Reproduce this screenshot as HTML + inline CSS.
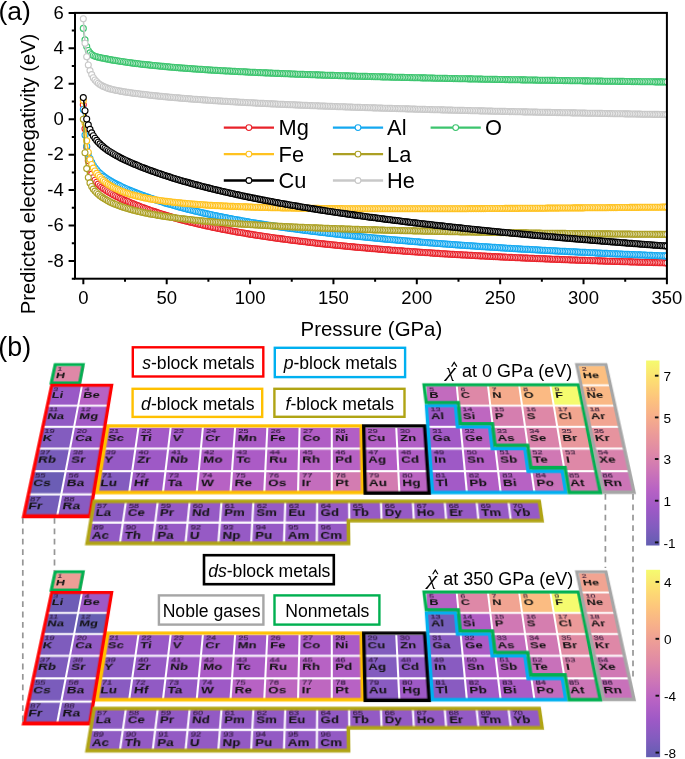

<!DOCTYPE html><html><head><meta charset="utf-8"><style>
html,body{margin:0;padding:0;background:#fff}svg{will-change:transform}body{width:685px;height:759px;overflow:hidden;position:relative;font-family:"Liberation Sans",sans-serif}
.a{position:absolute}.box{position:absolute;box-sizing:border-box;background:#fff;font-size:17.6px;color:#111;text-align:center;white-space:nowrap}
.pt{position:absolute;left:0;top:0;transform-origin:0 0}
</style></head><body>
<svg class="a" style="left:0;top:0" width="685" height="345" viewBox="0 0 685 345">
<defs><clipPath id="cp"><rect x="75.0" y="12.9" width="591.9" height="265.8"/></clipPath>
<marker id="mMg" markerUnits="userSpaceOnUse" markerWidth="8" markerHeight="8" refX="4" refY="4" overflow="visible"><circle cx="4" cy="4" r="3.0" fill="#fff" stroke="#e8222a" stroke-width="1.1"/></marker>
<marker id="mAl" markerUnits="userSpaceOnUse" markerWidth="8" markerHeight="8" refX="4" refY="4" overflow="visible"><circle cx="4" cy="4" r="3.0" fill="#fff" stroke="#14a8f0" stroke-width="1.1"/></marker>
<marker id="mO" markerUnits="userSpaceOnUse" markerWidth="8" markerHeight="8" refX="4" refY="4" overflow="visible"><circle cx="4" cy="4" r="3.0" fill="#fff" stroke="#3cc46e" stroke-width="1.1"/></marker>
<marker id="mFe" markerUnits="userSpaceOnUse" markerWidth="8" markerHeight="8" refX="4" refY="4" overflow="visible"><circle cx="4" cy="4" r="3.0" fill="#fff" stroke="#ffc220" stroke-width="1.1"/></marker>
<marker id="mLa" markerUnits="userSpaceOnUse" markerWidth="8" markerHeight="8" refX="4" refY="4" overflow="visible"><circle cx="4" cy="4" r="3.0" fill="#fff" stroke="#aca024" stroke-width="1.1"/></marker>
<marker id="mCu" markerUnits="userSpaceOnUse" markerWidth="8" markerHeight="8" refX="4" refY="4" overflow="visible"><circle cx="4" cy="4" r="3.0" fill="#fff" stroke="#000000" stroke-width="1.1"/></marker>
<marker id="mHe" markerUnits="userSpaceOnUse" markerWidth="8" markerHeight="8" refX="4" refY="4" overflow="visible"><circle cx="4" cy="4" r="3.0" fill="#fff" stroke="#c8c8c8" stroke-width="1.1"/></marker>
</defs>
<g clip-path="url(#cp)">
<polyline fill="none" stroke="#e8222a" stroke-width="1.6" points="83.3,104.7 85.0,128.8 86.7,147.0 88.3,160.7 90.0,169.2 91.7,174.3 93.3,177.8 95.0,180.3 96.7,182.3 98.3,184.1 100.0,185.7 101.7,187.1 103.3,188.4 105.0,189.6 106.7,190.7 108.3,191.8 110.0,192.8 111.7,193.8 113.3,194.7 115.0,195.6 116.7,196.5 118.4,197.3 120.0,198.1 121.7,198.9 123.4,199.7 125.0,200.4 126.7,201.1 128.4,201.8 130.0,202.5 131.7,203.2 133.4,203.9 135.0,204.6 136.7,205.2 138.4,205.9 140.0,206.5 141.7,207.2 143.4,207.8 145.0,208.4 146.7,209.0 148.4,209.6 150.0,210.2 151.7,210.7 153.4,211.3 155.0,211.9 156.7,212.4 158.4,213.0 160.0,213.5 161.7,214.0 163.4,214.6 165.0,215.1 166.7,215.6 168.4,216.1 170.0,216.6 171.7,217.1 173.4,217.6 175.0,218.0 176.7,218.5 178.4,219.0 180.0,219.4 181.7,219.9 183.4,220.3 185.0,220.7 186.7,221.2 188.4,221.6 190.0,222.0 191.7,222.4 193.4,222.8 195.0,223.2 196.7,223.6 198.4,224.0 200.0,224.4 201.7,224.8 203.4,225.2 205.1,225.6 206.7,225.9 208.4,226.3 210.1,226.6 211.7,227.0 213.4,227.4 215.1,227.7 216.7,228.0 218.4,228.4 220.1,228.7 221.7,229.1 223.4,229.4 225.1,229.7 226.7,230.0 228.4,230.3 230.1,230.7 231.7,231.0 233.4,231.3 235.1,231.6 236.7,231.9 238.4,232.2 240.1,232.5 241.7,232.7 243.4,233.0 245.1,233.3 246.7,233.6 248.4,233.9 250.1,234.2 251.7,234.4 253.4,234.7 255.1,235.0 256.7,235.2 258.4,235.5 260.1,235.7 261.7,236.0 263.4,236.2 265.1,236.5 266.7,236.7 268.4,237.0 270.1,237.2 271.7,237.5 273.4,237.7 275.1,238.0 276.7,238.2 278.4,238.4 280.1,238.6 281.7,238.9 283.4,239.1 285.1,239.3 286.8,239.5 288.4,239.8 290.1,240.0 291.8,240.2 293.4,240.4 295.1,240.6 296.8,240.8 298.4,241.0 300.1,241.2 301.8,241.4 303.4,241.6 305.1,241.8 306.8,242.0 308.4,242.2 310.1,242.4 311.8,242.6 313.4,242.8 315.1,243.0 316.8,243.2 318.4,243.4 320.1,243.6 321.8,243.7 323.4,243.9 325.1,244.1 326.8,244.3 328.4,244.4 330.1,244.6 331.8,244.8 333.4,245.0 335.1,245.1 336.8,245.3 338.4,245.5 340.1,245.6 341.8,245.8 343.4,246.0 345.1,246.1 346.8,246.3 348.4,246.5 350.1,246.6 351.8,246.8 353.4,246.9 355.1,247.1 356.8,247.2 358.4,247.4 360.1,247.5 361.8,247.7 363.4,247.8 365.1,248.0 366.8,248.1 368.4,248.3 370.1,248.4 371.8,248.6 373.5,248.7 375.1,248.8 376.8,249.0 378.5,249.1 380.1,249.2 381.8,249.4 383.5,249.5 385.1,249.7 386.8,249.8 388.5,249.9 390.1,250.0 391.8,250.2 393.5,250.3 395.1,250.4 396.8,250.6 398.5,250.7 400.1,250.8 401.8,250.9 403.5,251.1 405.1,251.2 406.8,251.3 408.5,251.4 410.1,251.5 411.8,251.7 413.5,251.8 415.1,251.9 416.8,252.0 418.5,252.1 420.1,252.2 421.8,252.4 423.5,252.5 425.1,252.6 426.8,252.7 428.5,252.8 430.1,252.9 431.8,253.0 433.5,253.1 435.1,253.2 436.8,253.3 438.5,253.4 440.1,253.6 441.8,253.7 443.5,253.8 445.1,253.9 446.8,254.0 448.5,254.1 450.1,254.2 451.8,254.3 453.5,254.4 455.1,254.5 456.8,254.6 458.5,254.7 460.2,254.8 461.8,254.9 463.5,255.0 465.2,255.0 466.8,255.1 468.5,255.2 470.2,255.3 471.8,255.4 473.5,255.5 475.2,255.6 476.8,255.7 478.5,255.8 480.2,255.9 481.8,256.0 483.5,256.0 485.2,256.1 486.8,256.2 488.5,256.3 490.2,256.4 491.8,256.5 493.5,256.6 495.2,256.6 496.8,256.7 498.5,256.8 500.2,256.9 501.8,257.0 503.5,257.1 505.2,257.1 506.8,257.2 508.5,257.3 510.2,257.4 511.8,257.4 513.5,257.5 515.2,257.6 516.8,257.7 518.5,257.8 520.2,257.8 521.8,257.9 523.5,258.0 525.2,258.1 526.8,258.1 528.5,258.2 530.2,258.3 531.8,258.3 533.5,258.4 535.2,258.5 536.8,258.6 538.5,258.6 540.2,258.7 541.9,258.8 543.5,258.8 545.2,258.9 546.9,259.0 548.5,259.0 550.2,259.1 551.9,259.2 553.5,259.2 555.2,259.3 556.9,259.4 558.5,259.4 560.2,259.5 561.9,259.6 563.5,259.6 565.2,259.7 566.9,259.8 568.5,259.8 570.2,259.9 571.9,260.0 573.5,260.0 575.2,260.1 576.9,260.1 578.5,260.2 580.2,260.3 581.9,260.3 583.5,260.4 585.2,260.4 586.9,260.5 588.5,260.5 590.2,260.6 591.9,260.7 593.5,260.7 595.2,260.8 596.9,260.8 598.5,260.9 600.2,260.9 601.9,261.0 603.5,261.1 605.2,261.1 606.9,261.2 608.5,261.2 610.2,261.3 611.9,261.3 613.5,261.4 615.2,261.4 616.9,261.5 618.5,261.5 620.2,261.6 621.9,261.6 623.5,261.7 625.2,261.7 626.9,261.8 628.6,261.8 630.2,261.9 631.9,261.9 633.6,262.0 635.2,262.0 636.9,262.1 638.6,262.1 640.2,262.2 641.9,262.2 643.6,262.3 645.2,262.3 646.9,262.4 648.6,262.4 650.2,262.5 651.9,262.5 653.6,262.6 655.2,262.6 656.9,262.6 658.6,262.7 660.2,262.7 661.9,262.8 663.6,262.8 665.2,262.9 666.9,262.9" marker-start="url(#mMg)" marker-mid="url(#mMg)" marker-end="url(#mMg)"/>
<polyline fill="none" stroke="#14a8f0" stroke-width="1.6" points="83.3,109.5 85.0,135.0 86.7,146.2 88.3,153.5 90.0,158.6 91.7,162.4 93.3,165.3 95.0,167.8 96.7,169.8 98.3,171.7 100.0,173.3 101.7,174.7 103.3,176.1 105.0,177.3 106.7,178.5 108.3,179.6 110.0,180.6 111.7,181.6 113.3,182.5 115.0,183.4 116.7,184.3 118.4,185.1 120.0,185.9 121.7,186.7 123.4,187.5 125.0,188.2 126.7,189.0 128.4,189.7 130.0,190.4 131.7,191.1 133.4,191.8 135.0,192.4 136.7,193.1 138.4,193.7 140.0,194.3 141.7,195.0 143.4,195.6 145.0,196.2 146.7,196.8 148.4,197.4 150.0,198.0 151.7,198.5 153.4,199.1 155.0,199.7 156.7,200.2 158.4,200.8 160.0,201.3 161.7,201.8 163.4,202.3 165.0,202.9 166.7,203.4 168.4,203.9 170.0,204.3 171.7,204.8 173.4,205.3 175.0,205.8 176.7,206.3 178.4,206.7 180.0,207.2 181.7,207.6 183.4,208.1 185.0,208.5 186.7,208.9 188.4,209.4 190.0,209.8 191.7,210.2 193.4,210.6 195.0,211.0 196.7,211.4 198.4,211.8 200.0,212.2 201.7,212.6 203.4,213.0 205.1,213.4 206.7,213.7 208.4,214.1 210.1,214.5 211.7,214.8 213.4,215.2 215.1,215.5 216.7,215.9 218.4,216.2 220.1,216.6 221.7,216.9 223.4,217.3 225.1,217.6 226.7,217.9 228.4,218.3 230.1,218.6 231.7,218.9 233.4,219.2 235.1,219.5 236.7,219.8 238.4,220.1 240.1,220.4 241.7,220.7 243.4,221.0 245.1,221.3 246.7,221.6 248.4,221.9 250.1,222.2 251.7,222.5 253.4,222.8 255.1,223.0 256.7,223.3 258.4,223.6 260.1,223.9 261.7,224.1 263.4,224.4 265.1,224.7 266.7,224.9 268.4,225.2 270.1,225.4 271.7,225.7 273.4,225.9 275.1,226.2 276.7,226.4 278.4,226.7 280.1,226.9 281.7,227.2 283.4,227.4 285.1,227.7 286.8,227.9 288.4,228.1 290.1,228.4 291.8,228.6 293.4,228.8 295.1,229.0 296.8,229.3 298.4,229.5 300.1,229.7 301.8,229.9 303.4,230.1 305.1,230.4 306.8,230.6 308.4,230.8 310.1,231.0 311.8,231.2 313.4,231.4 315.1,231.6 316.8,231.8 318.4,232.0 320.1,232.2 321.8,232.4 323.4,232.6 325.1,232.8 326.8,233.0 328.4,233.2 330.1,233.4 331.8,233.6 333.4,233.8 335.1,234.0 336.8,234.2 338.4,234.3 340.1,234.5 341.8,234.7 343.4,234.9 345.1,235.1 346.8,235.3 348.4,235.4 350.1,235.6 351.8,235.8 353.4,236.0 355.1,236.1 356.8,236.3 358.4,236.5 360.1,236.6 361.8,236.8 363.4,237.0 365.1,237.1 366.8,237.3 368.4,237.5 370.1,237.6 371.8,237.8 373.5,238.0 375.1,238.1 376.8,238.3 378.5,238.4 380.1,238.6 381.8,238.8 383.5,238.9 385.1,239.1 386.8,239.2 388.5,239.4 390.1,239.5 391.8,239.7 393.5,239.8 395.1,240.0 396.8,240.1 398.5,240.3 400.1,240.4 401.8,240.5 403.5,240.7 405.1,240.8 406.8,241.0 408.5,241.1 410.1,241.3 411.8,241.4 413.5,241.5 415.1,241.7 416.8,241.8 418.5,241.9 420.1,242.1 421.8,242.2 423.5,242.3 425.1,242.5 426.8,242.6 428.5,242.7 430.1,242.9 431.8,243.0 433.5,243.1 435.1,243.3 436.8,243.4 438.5,243.5 440.1,243.6 441.8,243.8 443.5,243.9 445.1,244.0 446.8,244.1 448.5,244.3 450.1,244.4 451.8,244.5 453.5,244.6 455.1,244.7 456.8,244.9 458.5,245.0 460.2,245.1 461.8,245.2 463.5,245.3 465.2,245.5 466.8,245.6 468.5,245.7 470.2,245.8 471.8,245.9 473.5,246.0 475.2,246.1 476.8,246.2 478.5,246.4 480.2,246.5 481.8,246.6 483.5,246.7 485.2,246.8 486.8,246.9 488.5,247.0 490.2,247.1 491.8,247.2 493.5,247.3 495.2,247.4 496.8,247.5 498.5,247.6 500.2,247.8 501.8,247.9 503.5,248.0 505.2,248.1 506.8,248.2 508.5,248.3 510.2,248.4 511.8,248.5 513.5,248.6 515.2,248.7 516.8,248.8 518.5,248.9 520.2,249.0 521.8,249.1 523.5,249.2 525.2,249.2 526.8,249.3 528.5,249.4 530.2,249.5 531.8,249.6 533.5,249.7 535.2,249.8 536.8,249.9 538.5,250.0 540.2,250.1 541.9,250.2 543.5,250.3 545.2,250.4 546.9,250.5 548.5,250.5 550.2,250.6 551.9,250.7 553.5,250.8 555.2,250.9 556.9,251.0 558.5,251.1 560.2,251.2 561.9,251.3 563.5,251.3 565.2,251.4 566.9,251.5 568.5,251.6 570.2,251.7 571.9,251.8 573.5,251.8 575.2,251.9 576.9,252.0 578.5,252.1 580.2,252.2 581.9,252.3 583.5,252.3 585.2,252.4 586.9,252.5 588.5,252.6 590.2,252.7 591.9,252.7 593.5,252.8 595.2,252.9 596.9,253.0 598.5,253.1 600.2,253.1 601.9,253.2 603.5,253.3 605.2,253.4 606.9,253.4 608.5,253.5 610.2,253.6 611.9,253.7 613.5,253.7 615.2,253.8 616.9,253.9 618.5,254.0 620.2,254.0 621.9,254.1 623.5,254.2 625.2,254.3 626.9,254.3 628.6,254.4 630.2,254.5 631.9,254.5 633.6,254.6 635.2,254.7 636.9,254.8 638.6,254.8 640.2,254.9 641.9,255.0 643.6,255.0 645.2,255.1 646.9,255.2 648.6,255.2 650.2,255.3 651.9,255.4 653.6,255.5 655.2,255.5 656.9,255.6 658.6,255.7 660.2,255.7 661.9,255.8 663.6,255.9 665.2,255.9 666.9,256.0" marker-start="url(#mAl)" marker-mid="url(#mAl)" marker-end="url(#mAl)"/>
<polyline fill="none" stroke="#3cc46e" stroke-width="1.6" points="83.3,28.4 85.0,39.9 86.7,46.6 88.3,50.5 90.0,52.9 91.7,54.5 93.3,55.5 95.0,56.3 96.7,56.8 98.3,57.2 100.0,57.6 101.7,58.0 103.3,58.3 105.0,58.6 106.7,58.9 108.3,59.3 110.0,59.6 111.7,59.9 113.3,60.2 115.0,60.4 116.7,60.7 118.4,61.0 120.0,61.3 121.7,61.5 123.4,61.8 125.0,62.0 126.7,62.3 128.4,62.5 130.0,62.7 131.7,62.9 133.4,63.2 135.0,63.4 136.7,63.6 138.4,63.8 140.0,64.0 141.7,64.2 143.4,64.4 145.0,64.6 146.7,64.8 148.4,64.9 150.0,65.1 151.7,65.3 153.4,65.5 155.0,65.6 156.7,65.8 158.4,66.0 160.0,66.1 161.7,66.3 163.4,66.4 165.0,66.6 166.7,66.7 168.4,66.9 170.0,67.0 171.7,67.2 173.4,67.3 175.0,67.5 176.7,67.6 178.4,67.7 180.0,67.9 181.7,68.0 183.4,68.1 185.0,68.3 186.7,68.4 188.4,68.5 190.0,68.6 191.7,68.7 193.4,68.9 195.0,69.0 196.7,69.1 198.4,69.2 200.0,69.3 201.7,69.4 203.4,69.5 205.1,69.7 206.7,69.8 208.4,69.9 210.1,70.0 211.7,70.1 213.4,70.2 215.1,70.3 216.7,70.4 218.4,70.5 220.1,70.6 221.7,70.7 223.4,70.8 225.1,70.9 226.7,71.0 228.4,71.0 230.1,71.1 231.7,71.2 233.4,71.3 235.1,71.4 236.7,71.5 238.4,71.6 240.1,71.7 241.7,71.7 243.4,71.8 245.1,71.9 246.7,72.0 248.4,72.1 250.1,72.2 251.7,72.2 253.4,72.3 255.1,72.4 256.7,72.5 258.4,72.6 260.1,72.6 261.7,72.7 263.4,72.8 265.1,72.9 266.7,72.9 268.4,73.0 270.1,73.1 271.7,73.1 273.4,73.2 275.1,73.3 276.7,73.4 278.4,73.4 280.1,73.5 281.7,73.6 283.4,73.6 285.1,73.7 286.8,73.8 288.4,73.8 290.1,73.9 291.8,74.0 293.4,74.0 295.1,74.1 296.8,74.2 298.4,74.2 300.1,74.3 301.8,74.3 303.4,74.4 305.1,74.5 306.8,74.5 308.4,74.6 310.1,74.6 311.8,74.7 313.4,74.8 315.1,74.8 316.8,74.9 318.4,74.9 320.1,75.0 321.8,75.1 323.4,75.1 325.1,75.2 326.8,75.2 328.4,75.3 330.1,75.3 331.8,75.4 333.4,75.4 335.1,75.5 336.8,75.5 338.4,75.6 340.1,75.7 341.8,75.7 343.4,75.8 345.1,75.8 346.8,75.9 348.4,75.9 350.1,76.0 351.8,76.0 353.4,76.1 355.1,76.1 356.8,76.2 358.4,76.2 360.1,76.3 361.8,76.3 363.4,76.4 365.1,76.4 366.8,76.4 368.4,76.5 370.1,76.5 371.8,76.6 373.5,76.6 375.1,76.7 376.8,76.7 378.5,76.8 380.1,76.8 381.8,76.9 383.5,76.9 385.1,76.9 386.8,77.0 388.5,77.0 390.1,77.1 391.8,77.1 393.5,77.2 395.1,77.2 396.8,77.2 398.5,77.3 400.1,77.3 401.8,77.4 403.5,77.4 405.1,77.5 406.8,77.5 408.5,77.5 410.1,77.6 411.8,77.6 413.5,77.7 415.1,77.7 416.8,77.7 418.5,77.8 420.1,77.8 421.8,77.9 423.5,77.9 425.1,77.9 426.8,78.0 428.5,78.0 430.1,78.0 431.8,78.1 433.5,78.1 435.1,78.2 436.8,78.2 438.5,78.2 440.1,78.3 441.8,78.3 443.5,78.3 445.1,78.4 446.8,78.4 448.5,78.5 450.1,78.5 451.8,78.5 453.5,78.6 455.1,78.6 456.8,78.6 458.5,78.7 460.2,78.7 461.8,78.7 463.5,78.8 465.2,78.8 466.8,78.8 468.5,78.9 470.2,78.9 471.8,78.9 473.5,79.0 475.2,79.0 476.8,79.0 478.5,79.1 480.2,79.1 481.8,79.1 483.5,79.2 485.2,79.2 486.8,79.2 488.5,79.3 490.2,79.3 491.8,79.3 493.5,79.4 495.2,79.4 496.8,79.4 498.5,79.5 500.2,79.5 501.8,79.5 503.5,79.5 505.2,79.6 506.8,79.6 508.5,79.6 510.2,79.7 511.8,79.7 513.5,79.7 515.2,79.8 516.8,79.8 518.5,79.8 520.2,79.8 521.8,79.9 523.5,79.9 525.2,79.9 526.8,80.0 528.5,80.0 530.2,80.0 531.8,80.0 533.5,80.1 535.2,80.1 536.8,80.1 538.5,80.2 540.2,80.2 541.9,80.2 543.5,80.2 545.2,80.3 546.9,80.3 548.5,80.3 550.2,80.3 551.9,80.4 553.5,80.4 555.2,80.4 556.9,80.5 558.5,80.5 560.2,80.5 561.9,80.5 563.5,80.6 565.2,80.6 566.9,80.6 568.5,80.6 570.2,80.7 571.9,80.7 573.5,80.7 575.2,80.7 576.9,80.8 578.5,80.8 580.2,80.8 581.9,80.8 583.5,80.9 585.2,80.9 586.9,80.9 588.5,80.9 590.2,81.0 591.9,81.0 593.5,81.0 595.2,81.0 596.9,81.1 598.5,81.1 600.2,81.1 601.9,81.1 603.5,81.2 605.2,81.2 606.9,81.2 608.5,81.2 610.2,81.3 611.9,81.3 613.5,81.3 615.2,81.3 616.9,81.3 618.5,81.4 620.2,81.4 621.9,81.4 623.5,81.4 625.2,81.5 626.9,81.5 628.6,81.5 630.2,81.5 631.9,81.6 633.6,81.6 635.2,81.6 636.9,81.6 638.6,81.6 640.2,81.7 641.9,81.7 643.6,81.7 645.2,81.7 646.9,81.7 648.6,81.8 650.2,81.8 651.9,81.8 653.6,81.8 655.2,81.9 656.9,81.9 658.6,81.9 660.2,81.9 661.9,81.9 663.6,82.0 665.2,82.0 666.9,82.0" marker-start="url(#mO)" marker-mid="url(#mO)" marker-end="url(#mO)"/>
<polyline fill="none" stroke="#ffc220" stroke-width="1.6" points="83.3,100.5 85.0,123.1 86.7,140.8 88.3,152.3 90.0,159.6 91.7,164.5 93.3,168.1 95.0,171.0 96.7,173.4 98.3,175.5 100.0,177.3 101.7,179.0 103.3,180.5 105.0,181.9 106.7,183.2 108.3,184.4 110.0,185.4 111.7,186.4 113.3,187.4 115.0,188.3 116.7,189.1 118.4,189.8 120.0,190.6 121.7,191.2 123.4,191.9 125.0,192.5 126.7,193.1 128.4,193.6 130.0,194.2 131.7,194.7 133.4,195.1 135.0,195.6 136.7,196.0 138.4,196.4 140.0,196.8 141.7,197.2 143.4,197.6 145.0,197.9 146.7,198.2 148.4,198.6 150.0,198.9 151.7,199.2 153.4,199.5 155.0,199.7 156.7,200.0 158.4,200.3 160.0,200.5 161.7,200.8 163.4,201.0 165.0,201.2 166.7,201.4 168.4,201.6 170.0,201.8 171.7,202.0 173.4,202.2 175.0,202.4 176.7,202.6 178.4,202.8 180.0,202.9 181.7,203.1 183.4,203.3 185.0,203.4 186.7,203.6 188.4,203.7 190.0,203.8 191.7,204.0 193.4,204.1 195.0,204.2 196.7,204.4 198.4,204.5 200.0,204.6 201.7,204.7 203.4,204.8 205.1,205.0 206.7,205.1 208.4,205.2 210.1,205.3 211.7,205.4 213.4,205.5 215.1,205.6 216.7,205.6 218.4,205.7 220.1,205.8 221.7,205.9 223.4,206.0 225.1,206.1 226.7,206.1 228.4,206.2 230.1,206.3 231.7,206.4 233.4,206.4 235.1,206.5 236.7,206.6 238.4,206.6 240.1,206.7 241.7,206.8 243.4,206.8 245.1,206.9 246.7,206.9 248.4,207.0 250.1,207.1 251.7,207.1 253.4,207.2 255.1,207.2 256.7,207.3 258.4,207.3 260.1,207.4 261.7,207.4 263.4,207.5 265.1,207.5 266.7,207.5 268.4,207.6 270.1,207.6 271.7,207.7 273.4,207.7 275.1,207.7 276.7,207.8 278.4,207.8 280.1,207.8 281.7,207.9 283.4,207.9 285.1,207.9 286.8,208.0 288.4,208.0 290.1,208.0 291.8,208.1 293.4,208.1 295.1,208.1 296.8,208.2 298.4,208.2 300.1,208.2 301.8,208.2 303.4,208.3 305.1,208.3 306.8,208.3 308.4,208.3 310.1,208.3 311.8,208.4 313.4,208.4 315.1,208.4 316.8,208.4 318.4,208.4 320.1,208.5 321.8,208.5 323.4,208.5 325.1,208.5 326.8,208.5 328.4,208.5 330.1,208.6 331.8,208.6 333.4,208.6 335.1,208.6 336.8,208.6 338.4,208.6 340.1,208.6 341.8,208.6 343.4,208.7 345.1,208.7 346.8,208.7 348.4,208.7 350.1,208.7 351.8,208.7 353.4,208.7 355.1,208.7 356.8,208.7 358.4,208.7 360.1,208.7 361.8,208.8 363.4,208.8 365.1,208.8 366.8,208.8 368.4,208.8 370.1,208.8 371.8,208.8 373.5,208.8 375.1,208.8 376.8,208.8 378.5,208.8 380.1,208.8 381.8,208.8 383.5,208.8 385.1,208.8 386.8,208.8 388.5,208.8 390.1,208.8 391.8,208.8 393.5,208.8 395.1,208.8 396.8,208.8 398.5,208.8 400.1,208.8 401.8,208.8 403.5,208.8 405.1,208.8 406.8,208.8 408.5,208.8 410.1,208.8 411.8,208.8 413.5,208.8 415.1,208.8 416.8,208.8 418.5,208.8 420.1,208.8 421.8,208.8 423.5,208.8 425.1,208.8 426.8,208.8 428.5,208.8 430.1,208.8 431.8,208.8 433.5,208.8 435.1,208.8 436.8,208.8 438.5,208.8 440.1,208.8 441.8,208.7 443.5,208.7 445.1,208.7 446.8,208.7 448.5,208.7 450.1,208.7 451.8,208.7 453.5,208.7 455.1,208.7 456.8,208.7 458.5,208.7 460.2,208.7 461.8,208.7 463.5,208.7 465.2,208.7 466.8,208.7 468.5,208.6 470.2,208.6 471.8,208.6 473.5,208.6 475.2,208.6 476.8,208.6 478.5,208.6 480.2,208.6 481.8,208.6 483.5,208.6 485.2,208.6 486.8,208.5 488.5,208.5 490.2,208.5 491.8,208.5 493.5,208.5 495.2,208.5 496.8,208.5 498.5,208.5 500.2,208.5 501.8,208.5 503.5,208.5 505.2,208.4 506.8,208.4 508.5,208.4 510.2,208.4 511.8,208.4 513.5,208.4 515.2,208.4 516.8,208.4 518.5,208.4 520.2,208.3 521.8,208.3 523.5,208.3 525.2,208.3 526.8,208.3 528.5,208.3 530.2,208.3 531.8,208.3 533.5,208.2 535.2,208.2 536.8,208.2 538.5,208.2 540.2,208.2 541.9,208.2 543.5,208.2 545.2,208.2 546.9,208.1 548.5,208.1 550.2,208.1 551.9,208.1 553.5,208.1 555.2,208.1 556.9,208.1 558.5,208.1 560.2,208.0 561.9,208.0 563.5,208.0 565.2,208.0 566.9,208.0 568.5,208.0 570.2,208.0 571.9,208.0 573.5,207.9 575.2,207.9 576.9,207.9 578.5,207.9 580.2,207.9 581.9,207.9 583.5,207.9 585.2,207.8 586.9,207.8 588.5,207.8 590.2,207.8 591.9,207.8 593.5,207.8 595.2,207.8 596.9,207.7 598.5,207.7 600.2,207.7 601.9,207.7 603.5,207.7 605.2,207.7 606.9,207.7 608.5,207.6 610.2,207.6 611.9,207.6 613.5,207.6 615.2,207.6 616.9,207.6 618.5,207.5 620.2,207.5 621.9,207.5 623.5,207.5 625.2,207.5 626.9,207.5 628.6,207.5 630.2,207.4 631.9,207.4 633.6,207.4 635.2,207.4 636.9,207.4 638.6,207.4 640.2,207.3 641.9,207.3 643.6,207.3 645.2,207.3 646.9,207.3 648.6,207.3 650.2,207.2 651.9,207.2 653.6,207.2 655.2,207.2 656.9,207.2 658.6,207.2 660.2,207.2 661.9,207.1 663.6,207.1 665.2,207.1 666.9,207.1" marker-start="url(#mFe)" marker-mid="url(#mFe)" marker-end="url(#mFe)"/>
<polyline fill="none" stroke="#aca024" stroke-width="1.6" points="83.3,119.3 85.0,152.7 86.7,168.6 88.3,177.5 90.0,182.9 91.7,186.5 93.3,189.1 95.0,191.1 96.7,192.8 98.3,194.3 100.0,195.7 101.7,196.9 103.3,198.1 105.0,199.1 106.7,200.1 108.3,201.0 110.0,201.9 111.7,202.7 113.3,203.4 115.0,204.2 116.7,204.8 118.4,205.5 120.0,206.1 121.7,206.7 123.4,207.3 125.0,207.8 126.7,208.3 128.4,208.8 130.0,209.3 131.7,209.7 133.4,210.2 135.0,210.6 136.7,211.0 138.4,211.4 140.0,211.8 141.7,212.2 143.4,212.5 145.0,212.9 146.7,213.2 148.4,213.6 150.0,213.9 151.7,214.2 153.4,214.5 155.0,214.8 156.7,215.1 158.4,215.4 160.0,215.6 161.7,215.9 163.4,216.2 165.0,216.4 166.7,216.7 168.4,216.9 170.0,217.1 171.7,217.4 173.4,217.6 175.0,217.8 176.7,218.1 178.4,218.3 180.0,218.5 181.7,218.7 183.4,218.9 185.0,219.1 186.7,219.3 188.4,219.5 190.0,219.6 191.7,219.8 193.4,220.0 195.0,220.2 196.7,220.4 198.4,220.5 200.0,220.7 201.7,220.9 203.4,221.0 205.1,221.2 206.7,221.3 208.4,221.5 210.1,221.6 211.7,221.8 213.4,221.9 215.1,222.1 216.7,222.2 218.4,222.3 220.1,222.5 221.7,222.6 223.4,222.7 225.1,222.9 226.7,223.0 228.4,223.1 230.1,223.3 231.7,223.4 233.4,223.5 235.1,223.6 236.7,223.7 238.4,223.9 240.1,224.0 241.7,224.1 243.4,224.2 245.1,224.3 246.7,224.4 248.4,224.5 250.1,224.6 251.7,224.7 253.4,224.8 255.1,224.9 256.7,225.0 258.4,225.1 260.1,225.2 261.7,225.3 263.4,225.4 265.1,225.5 266.7,225.6 268.4,225.7 270.1,225.8 271.7,225.9 273.4,226.0 275.1,226.1 276.7,226.1 278.4,226.2 280.1,226.3 281.7,226.4 283.4,226.5 285.1,226.6 286.8,226.6 288.4,226.7 290.1,226.8 291.8,226.9 293.4,227.0 295.1,227.0 296.8,227.1 298.4,227.2 300.1,227.3 301.8,227.3 303.4,227.4 305.1,227.5 306.8,227.5 308.4,227.6 310.1,227.7 311.8,227.7 313.4,227.8 315.1,227.9 316.8,227.9 318.4,228.0 320.1,228.1 321.8,228.1 323.4,228.2 325.1,228.3 326.8,228.3 328.4,228.4 330.1,228.5 331.8,228.5 333.4,228.6 335.1,228.6 336.8,228.7 338.4,228.7 340.1,228.8 341.8,228.9 343.4,228.9 345.1,229.0 346.8,229.0 348.4,229.1 350.1,229.1 351.8,229.2 353.4,229.2 355.1,229.3 356.8,229.4 358.4,229.4 360.1,229.5 361.8,229.5 363.4,229.6 365.1,229.6 366.8,229.7 368.4,229.7 370.1,229.8 371.8,229.8 373.5,229.9 375.1,229.9 376.8,229.9 378.5,230.0 380.1,230.0 381.8,230.1 383.5,230.1 385.1,230.2 386.8,230.2 388.5,230.3 390.1,230.3 391.8,230.4 393.5,230.4 395.1,230.4 396.8,230.5 398.5,230.5 400.1,230.6 401.8,230.6 403.5,230.6 405.1,230.7 406.8,230.7 408.5,230.8 410.1,230.8 411.8,230.8 413.5,230.9 415.1,230.9 416.8,231.0 418.5,231.0 420.1,231.0 421.8,231.1 423.5,231.1 425.1,231.2 426.8,231.2 428.5,231.2 430.1,231.3 431.8,231.3 433.5,231.3 435.1,231.4 436.8,231.4 438.5,231.4 440.1,231.5 441.8,231.5 443.5,231.5 445.1,231.6 446.8,231.6 448.5,231.6 450.1,231.7 451.8,231.7 453.5,231.7 455.1,231.8 456.8,231.8 458.5,231.8 460.2,231.9 461.8,231.9 463.5,231.9 465.2,232.0 466.8,232.0 468.5,232.0 470.2,232.0 471.8,232.1 473.5,232.1 475.2,232.1 476.8,232.2 478.5,232.2 480.2,232.2 481.8,232.3 483.5,232.3 485.2,232.3 486.8,232.3 488.5,232.4 490.2,232.4 491.8,232.4 493.5,232.4 495.2,232.5 496.8,232.5 498.5,232.5 500.2,232.6 501.8,232.6 503.5,232.6 505.2,232.6 506.8,232.7 508.5,232.7 510.2,232.7 511.8,232.7 513.5,232.8 515.2,232.8 516.8,232.8 518.5,232.8 520.2,232.9 521.8,232.9 523.5,232.9 525.2,232.9 526.8,232.9 528.5,233.0 530.2,233.0 531.8,233.0 533.5,233.0 535.2,233.1 536.8,233.1 538.5,233.1 540.2,233.1 541.9,233.2 543.5,233.2 545.2,233.2 546.9,233.2 548.5,233.2 550.2,233.3 551.9,233.3 553.5,233.3 555.2,233.3 556.9,233.3 558.5,233.4 560.2,233.4 561.9,233.4 563.5,233.4 565.2,233.4 566.9,233.5 568.5,233.5 570.2,233.5 571.9,233.5 573.5,233.5 575.2,233.6 576.9,233.6 578.5,233.6 580.2,233.6 581.9,233.6 583.5,233.7 585.2,233.7 586.9,233.7 588.5,233.7 590.2,233.7 591.9,233.8 593.5,233.8 595.2,233.8 596.9,233.8 598.5,233.8 600.2,233.8 601.9,233.9 603.5,233.9 605.2,233.9 606.9,233.9 608.5,233.9 610.2,233.9 611.9,234.0 613.5,234.0 615.2,234.0 616.9,234.0 618.5,234.0 620.2,234.0 621.9,234.1 623.5,234.1 625.2,234.1 626.9,234.1 628.6,234.1 630.2,234.1 631.9,234.2 633.6,234.2 635.2,234.2 636.9,234.2 638.6,234.2 640.2,234.2 641.9,234.2 643.6,234.3 645.2,234.3 646.9,234.3 648.6,234.3 650.2,234.3 651.9,234.3 653.6,234.3 655.2,234.4 656.9,234.4 658.6,234.4 660.2,234.4 661.9,234.4 663.6,234.4 665.2,234.4 666.9,234.5" marker-start="url(#mLa)" marker-mid="url(#mLa)" marker-end="url(#mLa)"/>
<polyline fill="none" stroke="#000000" stroke-width="1.6" points="83.3,97.6 85.0,110.7 86.7,119.0 88.3,124.9 90.0,129.4 91.7,132.9 93.3,135.8 95.0,138.2 96.7,140.4 98.3,142.2 100.0,143.9 101.7,145.5 103.3,146.9 105.0,148.2 106.7,149.5 108.3,150.7 110.0,151.8 111.7,152.8 113.3,153.8 115.0,154.8 116.7,155.7 118.4,156.6 120.0,157.5 121.7,158.4 123.4,159.2 125.0,160.0 126.7,160.8 128.4,161.5 130.0,162.3 131.7,163.0 133.4,163.7 135.0,164.4 136.7,165.1 138.4,165.8 140.0,166.5 141.7,167.2 143.4,167.8 145.0,168.4 146.7,169.1 148.4,169.7 150.0,170.3 151.7,170.9 153.4,171.5 155.0,172.1 156.7,172.7 158.4,173.3 160.0,173.8 161.7,174.4 163.4,175.0 165.0,175.5 166.7,176.1 168.4,176.6 170.0,177.1 171.7,177.7 173.4,178.2 175.0,178.7 176.7,179.2 178.4,179.7 180.0,180.2 181.7,180.7 183.4,181.2 185.0,181.7 186.7,182.1 188.4,182.6 190.0,183.1 191.7,183.6 193.4,184.0 195.0,184.5 196.7,184.9 198.4,185.4 200.0,185.8 201.7,186.2 203.4,186.7 205.1,187.1 206.7,187.5 208.4,187.9 210.1,188.4 211.7,188.8 213.4,189.2 215.1,189.6 216.7,190.0 218.4,190.4 220.1,190.8 221.7,191.2 223.4,191.6 225.1,192.0 226.7,192.3 228.4,192.7 230.1,193.1 231.7,193.5 233.4,193.8 235.1,194.2 236.7,194.6 238.4,194.9 240.1,195.3 241.7,195.7 243.4,196.0 245.1,196.4 246.7,196.7 248.4,197.1 250.1,197.4 251.7,197.7 253.4,198.1 255.1,198.4 256.7,198.7 258.4,199.1 260.1,199.4 261.7,199.7 263.4,200.1 265.1,200.4 266.7,200.7 268.4,201.0 270.1,201.3 271.7,201.6 273.4,202.0 275.1,202.3 276.7,202.6 278.4,202.9 280.1,203.2 281.7,203.5 283.4,203.8 285.1,204.1 286.8,204.4 288.4,204.7 290.1,205.0 291.8,205.3 293.4,205.5 295.1,205.8 296.8,206.1 298.4,206.4 300.1,206.7 301.8,207.0 303.4,207.2 305.1,207.5 306.8,207.8 308.4,208.1 310.1,208.3 311.8,208.6 313.4,208.9 315.1,209.1 316.8,209.4 318.4,209.7 320.1,209.9 321.8,210.2 323.4,210.4 325.1,210.7 326.8,211.0 328.4,211.2 330.1,211.5 331.8,211.7 333.4,212.0 335.1,212.2 336.8,212.5 338.4,212.7 340.1,213.0 341.8,213.2 343.4,213.4 345.1,213.7 346.8,213.9 348.4,214.2 350.1,214.4 351.8,214.6 353.4,214.9 355.1,215.1 356.8,215.4 358.4,215.6 360.1,215.8 361.8,216.0 363.4,216.3 365.1,216.5 366.8,216.7 368.4,217.0 370.1,217.2 371.8,217.4 373.5,217.6 375.1,217.8 376.8,218.1 378.5,218.3 380.1,218.5 381.8,218.7 383.5,218.9 385.1,219.2 386.8,219.4 388.5,219.6 390.1,219.8 391.8,220.0 393.5,220.2 395.1,220.4 396.8,220.6 398.5,220.8 400.1,221.0 401.8,221.3 403.5,221.5 405.1,221.7 406.8,221.9 408.5,222.1 410.1,222.3 411.8,222.5 413.5,222.7 415.1,222.9 416.8,223.1 418.5,223.3 420.1,223.5 421.8,223.7 423.5,223.9 425.1,224.0 426.8,224.2 428.5,224.4 430.1,224.6 431.8,224.8 433.5,225.0 435.1,225.2 436.8,225.4 438.5,225.6 440.1,225.8 441.8,225.9 443.5,226.1 445.1,226.3 446.8,226.5 448.5,226.7 450.1,226.9 451.8,227.0 453.5,227.2 455.1,227.4 456.8,227.6 458.5,227.8 460.2,227.9 461.8,228.1 463.5,228.3 465.2,228.5 466.8,228.7 468.5,228.8 470.2,229.0 471.8,229.2 473.5,229.3 475.2,229.5 476.8,229.7 478.5,229.9 480.2,230.0 481.8,230.2 483.5,230.4 485.2,230.5 486.8,230.7 488.5,230.9 490.2,231.0 491.8,231.2 493.5,231.4 495.2,231.5 496.8,231.7 498.5,231.9 500.2,232.0 501.8,232.2 503.5,232.4 505.2,232.5 506.8,232.7 508.5,232.8 510.2,233.0 511.8,233.2 513.5,233.3 515.2,233.5 516.8,233.6 518.5,233.8 520.2,234.0 521.8,234.1 523.5,234.3 525.2,234.4 526.8,234.6 528.5,234.7 530.2,234.9 531.8,235.0 533.5,235.2 535.2,235.4 536.8,235.5 538.5,235.7 540.2,235.8 541.9,236.0 543.5,236.1 545.2,236.3 546.9,236.4 548.5,236.6 550.2,236.7 551.9,236.8 553.5,237.0 555.2,237.1 556.9,237.3 558.5,237.4 560.2,237.6 561.9,237.7 563.5,237.9 565.2,238.0 566.9,238.2 568.5,238.3 570.2,238.4 571.9,238.6 573.5,238.7 575.2,238.9 576.9,239.0 578.5,239.2 580.2,239.3 581.9,239.4 583.5,239.6 585.2,239.7 586.9,239.8 588.5,240.0 590.2,240.1 591.9,240.3 593.5,240.4 595.2,240.5 596.9,240.7 598.5,240.8 600.2,240.9 601.9,241.1 603.5,241.2 605.2,241.3 606.9,241.5 608.5,241.6 610.2,241.7 611.9,241.9 613.5,242.0 615.2,242.1 616.9,242.3 618.5,242.4 620.2,242.5 621.9,242.7 623.5,242.8 625.2,242.9 626.9,243.1 628.6,243.2 630.2,243.3 631.9,243.4 633.6,243.6 635.2,243.7 636.9,243.8 638.6,244.0 640.2,244.1 641.9,244.2 643.6,244.3 645.2,244.5 646.9,244.6 648.6,244.7 650.2,244.8 651.9,245.0 653.6,245.1 655.2,245.2 656.9,245.3 658.6,245.5 660.2,245.6 661.9,245.7 663.6,245.8 665.2,245.9 666.9,246.1" marker-start="url(#mCu)" marker-mid="url(#mCu)" marker-end="url(#mCu)"/>
<polyline fill="none" stroke="#c8c8c8" stroke-width="1.6" points="83.3,18.7 85.0,43.3 86.7,56.7 88.3,65.0 90.0,70.6 91.7,74.6 93.3,77.7 95.0,80.0 96.7,81.8 98.3,83.3 100.0,84.5 101.7,85.5 103.3,86.4 105.0,87.1 106.7,87.8 108.3,88.4 110.0,88.9 111.7,89.3 113.3,89.7 115.0,90.1 116.7,90.5 118.4,90.8 120.0,91.1 121.7,91.4 123.4,91.7 125.0,91.9 126.7,92.2 128.4,92.4 130.0,92.7 131.7,92.9 133.4,93.2 135.0,93.4 136.7,93.6 138.4,93.8 140.0,94.0 141.7,94.2 143.4,94.4 145.0,94.6 146.7,94.8 148.4,95.0 150.0,95.2 151.7,95.4 153.4,95.6 155.0,95.7 156.7,95.9 158.4,96.1 160.0,96.3 161.7,96.4 163.4,96.6 165.0,96.7 166.7,96.9 168.4,97.1 170.0,97.2 171.7,97.4 173.4,97.5 175.0,97.7 176.7,97.8 178.4,97.9 180.0,98.1 181.7,98.2 183.4,98.4 185.0,98.5 186.7,98.6 188.4,98.8 190.0,98.9 191.7,99.0 193.4,99.2 195.0,99.3 196.7,99.4 198.4,99.5 200.0,99.6 201.7,99.8 203.4,99.9 205.1,100.0 206.7,100.1 208.4,100.2 210.1,100.3 211.7,100.5 213.4,100.6 215.1,100.7 216.7,100.8 218.4,100.9 220.1,101.0 221.7,101.1 223.4,101.2 225.1,101.3 226.7,101.4 228.4,101.5 230.1,101.6 231.7,101.7 233.4,101.8 235.1,101.9 236.7,102.0 238.4,102.1 240.1,102.2 241.7,102.3 243.4,102.4 245.1,102.5 246.7,102.6 248.4,102.7 250.1,102.8 251.7,102.8 253.4,102.9 255.1,103.0 256.7,103.1 258.4,103.2 260.1,103.3 261.7,103.4 263.4,103.4 265.1,103.5 266.7,103.6 268.4,103.7 270.1,103.8 271.7,103.9 273.4,103.9 275.1,104.0 276.7,104.1 278.4,104.2 280.1,104.2 281.7,104.3 283.4,104.4 285.1,104.5 286.8,104.6 288.4,104.6 290.1,104.7 291.8,104.8 293.4,104.8 295.1,104.9 296.8,105.0 298.4,105.1 300.1,105.1 301.8,105.2 303.4,105.3 305.1,105.3 306.8,105.4 308.4,105.5 310.1,105.6 311.8,105.6 313.4,105.7 315.1,105.8 316.8,105.8 318.4,105.9 320.1,106.0 321.8,106.0 323.4,106.1 325.1,106.1 326.8,106.2 328.4,106.3 330.1,106.3 331.8,106.4 333.4,106.5 335.1,106.5 336.8,106.6 338.4,106.7 340.1,106.7 341.8,106.8 343.4,106.8 345.1,106.9 346.8,107.0 348.4,107.0 350.1,107.1 351.8,107.1 353.4,107.2 355.1,107.2 356.8,107.3 358.4,107.4 360.1,107.4 361.8,107.5 363.4,107.5 365.1,107.6 366.8,107.6 368.4,107.7 370.1,107.8 371.8,107.8 373.5,107.9 375.1,107.9 376.8,108.0 378.5,108.0 380.1,108.1 381.8,108.1 383.5,108.2 385.1,108.2 386.8,108.3 388.5,108.3 390.1,108.4 391.8,108.4 393.5,108.5 395.1,108.5 396.8,108.6 398.5,108.6 400.1,108.7 401.8,108.7 403.5,108.8 405.1,108.8 406.8,108.9 408.5,108.9 410.1,109.0 411.8,109.0 413.5,109.1 415.1,109.1 416.8,109.2 418.5,109.2 420.1,109.3 421.8,109.3 423.5,109.4 425.1,109.4 426.8,109.5 428.5,109.5 430.1,109.6 431.8,109.6 433.5,109.7 435.1,109.7 436.8,109.7 438.5,109.8 440.1,109.8 441.8,109.9 443.5,109.9 445.1,110.0 446.8,110.0 448.5,110.1 450.1,110.1 451.8,110.1 453.5,110.2 455.1,110.2 456.8,110.3 458.5,110.3 460.2,110.4 461.8,110.4 463.5,110.4 465.2,110.5 466.8,110.5 468.5,110.6 470.2,110.6 471.8,110.7 473.5,110.7 475.2,110.7 476.8,110.8 478.5,110.8 480.2,110.9 481.8,110.9 483.5,110.9 485.2,111.0 486.8,111.0 488.5,111.1 490.2,111.1 491.8,111.1 493.5,111.2 495.2,111.2 496.8,111.3 498.5,111.3 500.2,111.3 501.8,111.4 503.5,111.4 505.2,111.4 506.8,111.5 508.5,111.5 510.2,111.6 511.8,111.6 513.5,111.6 515.2,111.7 516.8,111.7 518.5,111.7 520.2,111.8 521.8,111.8 523.5,111.9 525.2,111.9 526.8,111.9 528.5,112.0 530.2,112.0 531.8,112.0 533.5,112.1 535.2,112.1 536.8,112.1 538.5,112.2 540.2,112.2 541.9,112.3 543.5,112.3 545.2,112.3 546.9,112.4 548.5,112.4 550.2,112.4 551.9,112.5 553.5,112.5 555.2,112.5 556.9,112.6 558.5,112.6 560.2,112.6 561.9,112.7 563.5,112.7 565.2,112.7 566.9,112.8 568.5,112.8 570.2,112.8 571.9,112.9 573.5,112.9 575.2,112.9 576.9,113.0 578.5,113.0 580.2,113.0 581.9,113.1 583.5,113.1 585.2,113.1 586.9,113.2 588.5,113.2 590.2,113.2 591.9,113.3 593.5,113.3 595.2,113.3 596.9,113.3 598.5,113.4 600.2,113.4 601.9,113.4 603.5,113.5 605.2,113.5 606.9,113.5 608.5,113.6 610.2,113.6 611.9,113.6 613.5,113.7 615.2,113.7 616.9,113.7 618.5,113.7 620.2,113.8 621.9,113.8 623.5,113.8 625.2,113.9 626.9,113.9 628.6,113.9 630.2,114.0 631.9,114.0 633.6,114.0 635.2,114.0 636.9,114.1 638.6,114.1 640.2,114.1 641.9,114.2 643.6,114.2 645.2,114.2 646.9,114.2 648.6,114.3 650.2,114.3 651.9,114.3 653.6,114.4 655.2,114.4 656.9,114.4 658.6,114.4 660.2,114.5 661.9,114.5 663.6,114.5 665.2,114.6 666.9,114.6" marker-start="url(#mHe)" marker-mid="url(#mHe)" marker-end="url(#mHe)"/>
</g>
<rect x="75.0" y="12.9" width="591.9" height="265.8" fill="none" stroke="#000" stroke-width="2"/>
<path d="M71.8 278.70H75.0M68.6 260.98H75.0M71.8 243.26H75.0M68.6 225.54H75.0M71.8 207.82H75.0M68.6 190.10H75.0M71.8 172.38H75.0M68.6 154.66H75.0M71.8 136.94H75.0M68.6 119.22H75.0M71.8 101.50H75.0M68.6 83.78H75.0M71.8 66.06H75.0M68.6 48.34H75.0M71.8 30.62H75.0M68.6 12.90H75.0M83.34 278.7V284.2M125.02 278.7V281.7M166.70 278.7V284.2M208.39 278.7V281.7M250.07 278.7V284.2M291.75 278.7V281.7M333.44 278.7V284.2M375.12 278.7V281.7M416.80 278.7V284.2M458.48 278.7V281.7M500.17 278.7V284.2M541.85 278.7V281.7M583.53 278.7V284.2M625.22 278.7V281.7M666.90 278.7V284.2" stroke="#000" stroke-width="2" fill="none"/>
<g font-family='"Liberation Sans", sans-serif' font-size="18.5" fill="#000">
<text x="63.8" y="266.6" text-anchor="end">-8</text>
<text x="63.8" y="231.1" text-anchor="end">-6</text>
<text x="63.8" y="195.7" text-anchor="end">-4</text>
<text x="63.8" y="160.3" text-anchor="end">-2</text>
<text x="63.8" y="124.8" text-anchor="end">0</text>
<text x="63.8" y="89.4" text-anchor="end">2</text>
<text x="63.8" y="53.9" text-anchor="end">4</text>
<text x="63.8" y="18.5" text-anchor="end">6</text>
<text x="83.34" y="304.4" text-anchor="middle">0</text>
<text x="166.70" y="304.4" text-anchor="middle">50</text>
<text x="250.07" y="304.4" text-anchor="middle">100</text>
<text x="333.44" y="304.4" text-anchor="middle">150</text>
<text x="416.80" y="304.4" text-anchor="middle">200</text>
<text x="500.17" y="304.4" text-anchor="middle">250</text>
<text x="583.53" y="304.4" text-anchor="middle">300</text>
<text x="666.90" y="304.4" text-anchor="middle">350</text>
</g>
<text x="300.6" y="336.1" font-family='"Liberation Sans", sans-serif' font-size="20.4">Pressure (GPa)</text>
<text transform="translate(35,314.2) rotate(-90)" font-family='"Liberation Sans", sans-serif' font-size="20.2">Predicted electronegativity (eV)</text>
<text x="-1.6" y="19.6" font-family='"Liberation Sans", sans-serif' font-size="26.5">(a)</text>
<line x1="223.8" y1="127.6" x2="274.0" y2="127.6" stroke="#e8222a" stroke-width="2.3"/>
<circle cx="248.9" cy="127.6" r="2.9" fill="#fff" stroke="#e8222a" stroke-width="1.1"/>
<text x="278.6" y="135.2" font-family='"Liberation Sans", sans-serif' font-size="21.8">Mg</text>
<line x1="332.9" y1="127.6" x2="383.1" y2="127.6" stroke="#14a8f0" stroke-width="2.3"/>
<circle cx="358.0" cy="127.6" r="2.9" fill="#fff" stroke="#14a8f0" stroke-width="1.1"/>
<text x="387.1" y="135.2" font-family='"Liberation Sans", sans-serif' font-size="21.8">Al</text>
<line x1="430.6" y1="127.6" x2="480.8" y2="127.6" stroke="#3cc46e" stroke-width="2.3"/>
<circle cx="455.7" cy="127.6" r="2.9" fill="#fff" stroke="#3cc46e" stroke-width="1.1"/>
<text x="484.9" y="135.2" font-family='"Liberation Sans", sans-serif' font-size="21.8">O</text>
<line x1="223.8" y1="154.1" x2="274.0" y2="154.1" stroke="#ffc220" stroke-width="2.3"/>
<circle cx="248.9" cy="154.1" r="2.9" fill="#fff" stroke="#ffc220" stroke-width="1.1"/>
<text x="278.6" y="161.7" font-family='"Liberation Sans", sans-serif' font-size="21.8">Fe</text>
<line x1="332.9" y1="154.1" x2="383.1" y2="154.1" stroke="#aca024" stroke-width="2.3"/>
<circle cx="358.0" cy="154.1" r="2.9" fill="#fff" stroke="#aca024" stroke-width="1.1"/>
<text x="387.1" y="161.7" font-family='"Liberation Sans", sans-serif' font-size="21.8">La</text>
<line x1="223.8" y1="180.5" x2="274.0" y2="180.5" stroke="#000000" stroke-width="2.3"/>
<circle cx="248.9" cy="180.5" r="2.9" fill="#fff" stroke="#000000" stroke-width="1.1"/>
<text x="278.6" y="188.1" font-family='"Liberation Sans", sans-serif' font-size="21.8">Cu</text>
<line x1="332.9" y1="180.5" x2="383.1" y2="180.5" stroke="#c8c8c8" stroke-width="2.3"/>
<circle cx="358.0" cy="180.5" r="2.9" fill="#fff" stroke="#c8c8c8" stroke-width="1.1"/>
<text x="387.1" y="188.1" font-family='"Liberation Sans", sans-serif' font-size="21.8">He</text>
</svg>
<div class="pt" style="transform:matrix3d(0.953021335,0,0,0,-0.229978991,0.644606574,0,-0.000693125348,0,0,1,0,45.8935996,354.61174,0,1)"><svg width="768" height="216" style="display:block"><style>.n{font:9px "Liberation Sans",sans-serif;fill:#24112f;stroke:#24112f;stroke-width:.2px;opacity:.9}.s{font:bold 13px "Liberation Sans",sans-serif;fill:#111}</style><rect x="13.00" y="13.00" width="30.00" height="19.60" fill="#de88a7"/><text class="n" transform="translate(15.40 17.90) scale(1.000 0.66)">1</text><text class="s" transform="translate(15.30 25.80) scale(1.000 0.72)">H</text><rect x="557.00" y="13.00" width="30.00" height="19.60" fill="#fcbf80"/><text class="n" transform="translate(559.40 17.90) scale(1.000 0.66)">2</text><text class="s" transform="translate(559.30 25.80) scale(1.000 0.72)">He</text><rect x="13.00" y="34.60" width="30.00" height="19.60" fill="#9959c6"/><text class="n" transform="translate(15.40 39.50) scale(1.000 0.66)">3</text><text class="s" transform="translate(15.30 47.40) scale(1.000 0.72)">Li</text><rect x="45.00" y="34.60" width="30.00" height="19.60" fill="#b762c4"/><text class="n" transform="translate(47.40 39.50) scale(1.000 0.66)">4</text><text class="s" transform="translate(47.30 47.40) scale(1.000 0.72)">Be</text><rect x="397.00" y="34.60" width="30.00" height="19.60" fill="#c26bbe"/><text class="n" transform="translate(399.40 39.50) scale(1.000 0.66)">5</text><text class="s" transform="translate(399.30 47.40) scale(1.000 0.72)">B</text><rect x="429.00" y="34.60" width="30.00" height="19.60" fill="#de88a7"/><text class="n" transform="translate(431.40 39.50) scale(1.000 0.66)">6</text><text class="s" transform="translate(431.30 47.40) scale(1.000 0.72)">C</text><rect x="461.00" y="34.60" width="30.00" height="19.60" fill="#f5ab8d"/><text class="n" transform="translate(463.40 39.50) scale(1.000 0.66)">7</text><text class="s" transform="translate(463.30 47.40) scale(1.000 0.72)">N</text><rect x="493.00" y="34.60" width="30.00" height="19.60" fill="#fbba83"/><text class="n" transform="translate(495.40 39.50) scale(1.000 0.66)">8</text><text class="s" transform="translate(495.30 47.40) scale(1.000 0.72)">O</text><rect x="525.00" y="34.60" width="30.00" height="19.60" fill="#f5fb6f"/><text class="n" transform="translate(527.40 39.50) scale(1.000 0.66)">9</text><text class="s" transform="translate(527.30 47.40) scale(1.000 0.72)">F</text><rect x="557.00" y="34.60" width="30.00" height="19.60" fill="#fab885"/><text class="n" transform="translate(559.40 39.50) scale(1.000 0.66)">10</text><text class="s" transform="translate(559.30 47.40) scale(1.000 0.72)">Ne</text><rect x="13.00" y="56.20" width="30.00" height="19.60" fill="#915ac4"/><text class="n" transform="translate(15.40 61.10) scale(1.000 0.66)">11</text><text class="s" transform="translate(15.30 69.00) scale(1.000 0.72)">Na</text><rect x="45.00" y="56.20" width="30.00" height="19.60" fill="#a35ac7"/><text class="n" transform="translate(47.40 61.10) scale(1.000 0.66)">12</text><text class="s" transform="translate(47.30 69.00) scale(1.000 0.72)">Mg</text><rect x="397.00" y="56.20" width="30.00" height="19.60" fill="#9e59c6"/><text class="n" transform="translate(399.40 61.10) scale(1.000 0.66)">13</text><text class="s" transform="translate(399.30 69.00) scale(1.000 0.72)">Al</text><rect x="429.00" y="56.20" width="30.00" height="19.60" fill="#be67c0"/><text class="n" transform="translate(431.40 61.10) scale(1.000 0.66)">14</text><text class="s" transform="translate(431.30 69.00) scale(1.000 0.72)">Si</text><rect x="461.00" y="56.20" width="30.00" height="19.60" fill="#d57eaf"/><text class="n" transform="translate(463.40 61.10) scale(1.000 0.66)">15</text><text class="s" transform="translate(463.30 69.00) scale(1.000 0.72)">P</text><rect x="493.00" y="56.20" width="30.00" height="19.60" fill="#de88a7"/><text class="n" transform="translate(495.40 61.10) scale(1.000 0.66)">16</text><text class="s" transform="translate(495.30 69.00) scale(1.000 0.72)">S</text><rect x="525.00" y="56.20" width="30.00" height="19.60" fill="#f2a690"/><text class="n" transform="translate(527.40 61.10) scale(1.000 0.66)">17</text><text class="s" transform="translate(527.30 69.00) scale(1.000 0.72)">Cl</text><rect x="557.00" y="56.20" width="30.00" height="19.60" fill="#f1a492"/><text class="n" transform="translate(559.40 61.10) scale(1.000 0.66)">18</text><text class="s" transform="translate(559.30 69.00) scale(1.000 0.72)">Ar</text><rect x="13.00" y="77.80" width="30.00" height="19.60" fill="#835cbf"/><text class="n" transform="translate(15.40 82.70) scale(1.000 0.66)">19</text><text class="s" transform="translate(15.30 90.60) scale(1.000 0.72)">K</text><rect x="45.00" y="77.80" width="30.00" height="19.60" fill="#9959c6"/><text class="n" transform="translate(47.40 82.70) scale(1.000 0.66)">20</text><text class="s" transform="translate(47.30 90.60) scale(1.000 0.72)">Ca</text><rect x="77.00" y="77.80" width="30.00" height="19.60" fill="#9e59c6"/><text class="n" transform="translate(79.40 82.70) scale(1.000 0.66)">21</text><text class="s" transform="translate(79.30 90.60) scale(1.000 0.72)">Sc</text><rect x="109.00" y="77.80" width="30.00" height="19.60" fill="#a35ac7"/><text class="n" transform="translate(111.40 82.70) scale(1.000 0.66)">22</text><text class="s" transform="translate(111.30 90.60) scale(1.000 0.72)">Ti</text><rect x="141.00" y="77.80" width="30.00" height="19.60" fill="#a35ac7"/><text class="n" transform="translate(143.40 82.70) scale(1.000 0.66)">23</text><text class="s" transform="translate(143.30 90.60) scale(1.000 0.72)">V</text><rect x="173.00" y="77.80" width="30.00" height="19.60" fill="#a85ac7"/><text class="n" transform="translate(175.40 82.70) scale(1.000 0.66)">24</text><text class="s" transform="translate(175.30 90.60) scale(1.000 0.72)">Cr</text><rect x="205.00" y="77.80" width="30.00" height="19.60" fill="#ab5bc6"/><text class="n" transform="translate(207.40 82.70) scale(1.000 0.66)">25</text><text class="s" transform="translate(207.30 90.60) scale(1.000 0.72)">Mn</text><rect x="237.00" y="77.80" width="30.00" height="19.60" fill="#ab5bc6"/><text class="n" transform="translate(239.40 82.70) scale(1.000 0.66)">26</text><text class="s" transform="translate(239.30 90.60) scale(1.000 0.72)">Fe</text><rect x="269.00" y="77.80" width="30.00" height="19.60" fill="#b05dc5"/><text class="n" transform="translate(271.40 82.70) scale(1.000 0.66)">27</text><text class="s" transform="translate(271.30 90.60) scale(1.000 0.72)">Co</text><rect x="301.00" y="77.80" width="30.00" height="19.60" fill="#b25ec5"/><text class="n" transform="translate(303.40 82.70) scale(1.000 0.66)">28</text><text class="s" transform="translate(303.30 90.60) scale(1.000 0.72)">Ni</text><rect x="333.00" y="77.80" width="30.00" height="19.60" fill="#b25ec5"/><text class="n" transform="translate(335.40 82.70) scale(1.000 0.66)">29</text><text class="s" transform="translate(335.30 90.60) scale(1.000 0.72)">Cu</text><rect x="365.00" y="77.80" width="30.00" height="19.60" fill="#b05dc5"/><text class="n" transform="translate(367.40 82.70) scale(1.000 0.66)">30</text><text class="s" transform="translate(367.30 90.60) scale(1.000 0.72)">Zn</text><rect x="397.00" y="77.80" width="30.00" height="19.60" fill="#a35ac7"/><text class="n" transform="translate(399.40 82.70) scale(1.000 0.66)">31</text><text class="s" transform="translate(399.30 90.60) scale(1.000 0.72)">Ga</text><rect x="429.00" y="77.80" width="30.00" height="19.60" fill="#b762c4"/><text class="n" transform="translate(431.40 82.70) scale(1.000 0.66)">32</text><text class="s" transform="translate(431.30 90.60) scale(1.000 0.72)">Ge</text><rect x="461.00" y="77.80" width="30.00" height="19.60" fill="#d078b4"/><text class="n" transform="translate(463.40 82.70) scale(1.000 0.66)">33</text><text class="s" transform="translate(463.30 90.60) scale(1.000 0.72)">As</text><rect x="493.00" y="77.80" width="30.00" height="19.60" fill="#da83ab"/><text class="n" transform="translate(495.40 82.70) scale(1.000 0.66)">34</text><text class="s" transform="translate(495.30 90.60) scale(1.000 0.72)">Se</text><rect x="525.00" y="77.80" width="30.00" height="19.60" fill="#e9979c"/><text class="n" transform="translate(527.40 82.70) scale(1.000 0.66)">35</text><text class="s" transform="translate(527.30 90.60) scale(1.000 0.72)">Br</text><rect x="557.00" y="77.80" width="30.00" height="19.60" fill="#e6939e"/><text class="n" transform="translate(559.40 82.70) scale(1.000 0.66)">36</text><text class="s" transform="translate(559.30 90.60) scale(1.000 0.72)">Kr</text><rect x="13.00" y="99.40" width="30.00" height="19.60" fill="#785cbb"/><text class="n" transform="translate(15.40 104.30) scale(1.000 0.66)">37</text><text class="s" transform="translate(15.30 112.20) scale(1.000 0.72)">Rb</text><rect x="45.00" y="99.40" width="30.00" height="19.60" fill="#915ac4"/><text class="n" transform="translate(47.40 104.30) scale(1.000 0.66)">38</text><text class="s" transform="translate(47.30 112.20) scale(1.000 0.72)">Sr</text><rect x="77.00" y="99.40" width="30.00" height="19.60" fill="#965ac5"/><text class="n" transform="translate(79.40 104.30) scale(1.000 0.66)">39</text><text class="s" transform="translate(79.30 112.20) scale(1.000 0.72)">Y</text><rect x="109.00" y="99.40" width="30.00" height="19.60" fill="#9e59c6"/><text class="n" transform="translate(111.40 104.30) scale(1.000 0.66)">40</text><text class="s" transform="translate(111.30 112.20) scale(1.000 0.72)">Zr</text><rect x="141.00" y="99.40" width="30.00" height="19.60" fill="#a35ac7"/><text class="n" transform="translate(143.40 104.30) scale(1.000 0.66)">41</text><text class="s" transform="translate(143.30 112.20) scale(1.000 0.72)">Nb</text><rect x="173.00" y="99.40" width="30.00" height="19.60" fill="#ab5bc6"/><text class="n" transform="translate(175.40 104.30) scale(1.000 0.66)">42</text><text class="s" transform="translate(175.30 112.20) scale(1.000 0.72)">Mo</text><rect x="205.00" y="99.40" width="30.00" height="19.60" fill="#ab5bc6"/><text class="n" transform="translate(207.40 104.30) scale(1.000 0.66)">43</text><text class="s" transform="translate(207.30 112.20) scale(1.000 0.72)">Tc</text><rect x="237.00" y="99.40" width="30.00" height="19.60" fill="#b25ec5"/><text class="n" transform="translate(239.40 104.30) scale(1.000 0.66)">44</text><text class="s" transform="translate(239.30 112.20) scale(1.000 0.72)">Ru</text><rect x="269.00" y="99.40" width="30.00" height="19.60" fill="#b762c4"/><text class="n" transform="translate(271.40 104.30) scale(1.000 0.66)">45</text><text class="s" transform="translate(271.30 112.20) scale(1.000 0.72)">Rh</text><rect x="301.00" y="99.40" width="30.00" height="19.60" fill="#b762c4"/><text class="n" transform="translate(303.40 104.30) scale(1.000 0.66)">46</text><text class="s" transform="translate(303.30 112.20) scale(1.000 0.72)">Pd</text><rect x="333.00" y="99.40" width="30.00" height="19.60" fill="#b25ec5"/><text class="n" transform="translate(335.40 104.30) scale(1.000 0.66)">47</text><text class="s" transform="translate(335.30 112.20) scale(1.000 0.72)">Ag</text><rect x="365.00" y="99.40" width="30.00" height="19.60" fill="#b05dc5"/><text class="n" transform="translate(367.40 104.30) scale(1.000 0.66)">48</text><text class="s" transform="translate(367.30 112.20) scale(1.000 0.72)">Cd</text><rect x="397.00" y="99.40" width="30.00" height="19.60" fill="#9e59c6"/><text class="n" transform="translate(399.40 104.30) scale(1.000 0.66)">49</text><text class="s" transform="translate(399.30 112.20) scale(1.000 0.72)">In</text><rect x="429.00" y="99.40" width="30.00" height="19.60" fill="#b25ec5"/><text class="n" transform="translate(431.40 104.30) scale(1.000 0.66)">50</text><text class="s" transform="translate(431.30 112.20) scale(1.000 0.72)">Sn</text><rect x="461.00" y="99.40" width="30.00" height="19.60" fill="#c26bbe"/><text class="n" transform="translate(463.40 104.30) scale(1.000 0.66)">51</text><text class="s" transform="translate(463.30 112.20) scale(1.000 0.72)">Sb</text><rect x="493.00" y="99.40" width="30.00" height="19.60" fill="#d078b4"/><text class="n" transform="translate(495.40 104.30) scale(1.000 0.66)">52</text><text class="s" transform="translate(495.30 112.20) scale(1.000 0.72)">Te</text><rect x="525.00" y="99.40" width="30.00" height="19.60" fill="#de88a7"/><text class="n" transform="translate(527.40 104.30) scale(1.000 0.66)">53</text><text class="s" transform="translate(527.30 112.20) scale(1.000 0.72)">I</text><rect x="557.00" y="99.40" width="30.00" height="19.60" fill="#d982ac"/><text class="n" transform="translate(559.40 104.30) scale(1.000 0.66)">54</text><text class="s" transform="translate(559.30 112.20) scale(1.000 0.72)">Xe</text><rect x="13.00" y="121.00" width="30.00" height="19.60" fill="#6b5db5"/><text class="n" transform="translate(15.40 125.90) scale(1.000 0.66)">55</text><text class="s" transform="translate(15.30 133.80) scale(1.000 0.72)">Cs</text><rect x="45.00" y="121.00" width="30.00" height="19.60" fill="#8c5bc2"/><text class="n" transform="translate(47.40 125.90) scale(1.000 0.66)">56</text><text class="s" transform="translate(47.30 133.80) scale(1.000 0.72)">Ba</text><rect x="77.00" y="121.00" width="30.00" height="19.60" fill="#835cbf"/><text class="n" transform="translate(79.40 125.90) scale(1.000 0.66)">71</text><text class="s" transform="translate(79.30 133.80) scale(1.000 0.72)">Lu</text><rect x="109.00" y="121.00" width="30.00" height="19.60" fill="#9e59c6"/><text class="n" transform="translate(111.40 125.90) scale(1.000 0.66)">72</text><text class="s" transform="translate(111.30 133.80) scale(1.000 0.72)">Hf</text><rect x="141.00" y="121.00" width="30.00" height="19.60" fill="#a85ac7"/><text class="n" transform="translate(143.40 125.90) scale(1.000 0.66)">73</text><text class="s" transform="translate(143.30 133.80) scale(1.000 0.72)">Ta</text><rect x="173.00" y="121.00" width="30.00" height="19.60" fill="#b762c4"/><text class="n" transform="translate(175.40 125.90) scale(1.000 0.66)">74</text><text class="s" transform="translate(175.30 133.80) scale(1.000 0.72)">W</text><rect x="205.00" y="121.00" width="30.00" height="19.60" fill="#b762c4"/><text class="n" transform="translate(207.40 125.90) scale(1.000 0.66)">75</text><text class="s" transform="translate(207.30 133.80) scale(1.000 0.72)">Re</text><rect x="237.00" y="121.00" width="30.00" height="19.60" fill="#be67c0"/><text class="n" transform="translate(239.40 125.90) scale(1.000 0.66)">76</text><text class="s" transform="translate(239.30 133.80) scale(1.000 0.72)">Os</text><rect x="269.00" y="121.00" width="30.00" height="19.60" fill="#c46dbd"/><text class="n" transform="translate(271.40 125.90) scale(1.000 0.66)">77</text><text class="s" transform="translate(271.30 133.80) scale(1.000 0.72)">Ir</text><rect x="301.00" y="121.00" width="30.00" height="19.60" fill="#d37cb1"/><text class="n" transform="translate(303.40 125.90) scale(1.000 0.66)">78</text><text class="s" transform="translate(303.30 133.80) scale(1.000 0.72)">Pt</text><rect x="333.00" y="121.00" width="30.00" height="19.60" fill="#d37cb1"/><text class="n" transform="translate(335.40 125.90) scale(1.000 0.66)">79</text><text class="s" transform="translate(335.30 133.80) scale(1.000 0.72)">Au</text><rect x="365.00" y="121.00" width="30.00" height="19.60" fill="#bb65c2"/><text class="n" transform="translate(367.40 125.90) scale(1.000 0.66)">80</text><text class="s" transform="translate(367.30 133.80) scale(1.000 0.72)">Hg</text><rect x="397.00" y="121.00" width="30.00" height="19.60" fill="#a35ac7"/><text class="n" transform="translate(399.40 125.90) scale(1.000 0.66)">81</text><text class="s" transform="translate(399.30 133.80) scale(1.000 0.72)">Tl</text><rect x="429.00" y="121.00" width="30.00" height="19.60" fill="#b25ec5"/><text class="n" transform="translate(431.40 125.90) scale(1.000 0.66)">82</text><text class="s" transform="translate(431.30 133.80) scale(1.000 0.72)">Pb</text><rect x="461.00" y="121.00" width="30.00" height="19.60" fill="#b762c4"/><text class="n" transform="translate(463.40 125.90) scale(1.000 0.66)">83</text><text class="s" transform="translate(463.30 133.80) scale(1.000 0.72)">Bi</text><rect x="493.00" y="121.00" width="30.00" height="19.60" fill="#c871ba"/><text class="n" transform="translate(495.40 125.90) scale(1.000 0.66)">84</text><text class="s" transform="translate(495.30 133.80) scale(1.000 0.72)">Po</text><rect x="525.00" y="121.00" width="30.00" height="19.60" fill="#d078b4"/><text class="n" transform="translate(527.40 125.90) scale(1.000 0.66)">85</text><text class="s" transform="translate(527.30 133.80) scale(1.000 0.72)">At</text><rect x="557.00" y="121.00" width="30.00" height="19.60" fill="#cc75b7"/><text class="n" transform="translate(559.40 125.90) scale(1.000 0.66)">86</text><text class="s" transform="translate(559.30 133.80) scale(1.000 0.72)">Rn</text><rect x="13.00" y="142.60" width="30.00" height="19.60" fill="#745db9"/><text class="n" transform="translate(15.40 147.50) scale(1.000 0.66)">87</text><text class="s" transform="translate(15.30 155.40) scale(1.000 0.72)">Fr</text><rect x="45.00" y="142.60" width="30.00" height="19.60" fill="#895bc1"/><text class="n" transform="translate(47.40 147.50) scale(1.000 0.66)">88</text><text class="s" transform="translate(47.30 155.40) scale(1.000 0.72)">Ra</text><rect x="77.16" y="148.00" width="28.02" height="17.87" fill="#8c5bc2"/><text class="n" transform="translate(79.56 153.80) scale(0.950 0.66)">57</text><text class="s" transform="translate(79.46 160.80) scale(0.950 0.72)">La</text><rect x="107.18" y="148.00" width="28.02" height="17.87" fill="#965ac5"/><text class="n" transform="translate(109.58 153.80) scale(0.950 0.66)">58</text><text class="s" transform="translate(109.48 160.80) scale(0.950 0.72)">Ce</text><rect x="137.19" y="148.00" width="28.02" height="17.87" fill="#965ac5"/><text class="n" transform="translate(139.59 153.80) scale(0.950 0.66)">59</text><text class="s" transform="translate(139.49 160.80) scale(0.950 0.72)">Pr</text><rect x="167.21" y="148.00" width="28.02" height="17.87" fill="#965ac5"/><text class="n" transform="translate(169.61 153.80) scale(0.950 0.66)">60</text><text class="s" transform="translate(169.51 160.80) scale(0.950 0.72)">Nd</text><rect x="197.22" y="148.00" width="28.02" height="17.87" fill="#965ac5"/><text class="n" transform="translate(199.62 153.80) scale(0.950 0.66)">61</text><text class="s" transform="translate(199.52 160.80) scale(0.950 0.72)">Pm</text><rect x="227.24" y="148.00" width="28.02" height="17.87" fill="#965ac5"/><text class="n" transform="translate(229.64 153.80) scale(0.950 0.66)">62</text><text class="s" transform="translate(229.54 160.80) scale(0.950 0.72)">Sm</text><rect x="257.26" y="148.00" width="28.02" height="17.87" fill="#965ac5"/><text class="n" transform="translate(259.66 153.80) scale(0.950 0.66)">63</text><text class="s" transform="translate(259.56 160.80) scale(0.950 0.72)">Eu</text><rect x="287.27" y="148.00" width="28.02" height="17.87" fill="#965ac5"/><text class="n" transform="translate(289.67 153.80) scale(0.950 0.66)">64</text><text class="s" transform="translate(289.57 160.80) scale(0.950 0.72)">Gd</text><rect x="317.29" y="148.00" width="28.02" height="17.87" fill="#965ac5"/><text class="n" transform="translate(319.69 153.80) scale(0.950 0.66)">65</text><text class="s" transform="translate(319.59 160.80) scale(0.950 0.72)">Tb</text><rect x="347.30" y="148.00" width="28.02" height="17.87" fill="#965ac5"/><text class="n" transform="translate(349.70 153.80) scale(0.950 0.66)">66</text><text class="s" transform="translate(349.60 160.80) scale(0.950 0.72)">Dy</text><rect x="377.32" y="148.00" width="28.02" height="17.87" fill="#965ac5"/><text class="n" transform="translate(379.72 153.80) scale(0.950 0.66)">67</text><text class="s" transform="translate(379.62 160.80) scale(0.950 0.72)">Ho</text><rect x="407.34" y="148.00" width="28.02" height="17.87" fill="#965ac5"/><text class="n" transform="translate(409.74 153.80) scale(0.950 0.66)">68</text><text class="s" transform="translate(409.64 160.80) scale(0.950 0.72)">Er</text><rect x="437.35" y="148.00" width="28.02" height="17.87" fill="#965ac5"/><text class="n" transform="translate(439.75 153.80) scale(0.950 0.66)">69</text><text class="s" transform="translate(439.65 160.80) scale(0.950 0.72)">Tm</text><rect x="467.37" y="148.00" width="28.02" height="17.87" fill="#965ac5"/><text class="n" transform="translate(469.77 153.80) scale(0.950 0.66)">70</text><text class="s" transform="translate(469.67 160.80) scale(0.950 0.72)">Yb</text><rect x="77.16" y="167.87" width="28.02" height="17.87" fill="#915ac4"/><text class="n" transform="translate(79.56 172.77) scale(0.950 0.66)">89</text><text class="s" transform="translate(79.46 180.67) scale(0.950 0.72)">Ac</text><rect x="107.18" y="167.87" width="28.02" height="17.87" fill="#965ac5"/><text class="n" transform="translate(109.58 172.77) scale(0.950 0.66)">90</text><text class="s" transform="translate(109.48 180.67) scale(0.950 0.72)">Th</text><rect x="137.19" y="167.87" width="28.02" height="17.87" fill="#965ac5"/><text class="n" transform="translate(139.59 172.77) scale(0.950 0.66)">91</text><text class="s" transform="translate(139.49 180.67) scale(0.950 0.72)">Pa</text><rect x="167.21" y="167.87" width="28.02" height="17.87" fill="#965ac5"/><text class="n" transform="translate(169.61 172.77) scale(0.950 0.66)">92</text><text class="s" transform="translate(169.51 180.67) scale(0.950 0.72)">U</text><rect x="197.22" y="167.87" width="28.02" height="17.87" fill="#965ac5"/><text class="n" transform="translate(199.62 172.77) scale(0.950 0.66)">93</text><text class="s" transform="translate(199.52 180.67) scale(0.950 0.72)">Np</text><rect x="227.24" y="167.87" width="28.02" height="17.87" fill="#965ac5"/><text class="n" transform="translate(229.64 172.77) scale(0.950 0.66)">94</text><text class="s" transform="translate(229.54 180.67) scale(0.950 0.72)">Pu</text><rect x="257.26" y="167.87" width="28.02" height="17.87" fill="#965ac5"/><text class="n" transform="translate(259.66 172.77) scale(0.950 0.66)">95</text><text class="s" transform="translate(259.56 180.67) scale(0.950 0.72)">Am</text><rect x="287.27" y="167.87" width="28.02" height="17.87" fill="#965ac5"/><text class="n" transform="translate(289.67 172.77) scale(0.950 0.66)">96</text><text class="s" transform="translate(289.57 180.67) scale(0.950 0.72)">Cm</text><polygon points="12.00,11.14 41.12,11.14 41.12,31.22 12.00,31.22" fill="none" stroke="#00b050" stroke-width="3.30" stroke-linejoin="miter"/><polygon points="12.96,33.60 74.40,33.60 74.40,161.26 12.96,161.26" fill="none" stroke="#ff0000" stroke-width="3.30" stroke-linejoin="miter"/><polygon points="77.60,75.94 329.18,75.94 329.18,139.87 77.60,139.87" fill="none" stroke="#ffc000" stroke-width="3.30" stroke-linejoin="miter"/><polygon points="331.72,75.94 392.27,75.94 392.27,140.30 331.72,140.30" fill="none" stroke="#000000" stroke-width="3.30" stroke-linejoin="miter"/><polygon points="395.47,55.20 395.47,139.87 521.76,139.87 521.76,120.00 488.80,120.00 488.80,98.40 456.80,98.40 456.80,76.80 424.80,76.80 424.80,55.20" fill="none" stroke="#00b0f0" stroke-width="3.3"/><polygon points="394.56,33.06 552.80,33.06 554.40,139.87 524.96,139.87 524.96,116.76 492.00,116.76 492.00,95.16 460.00,95.16 460.00,73.56 428.00,73.56 428.00,51.96 395.52,51.96" fill="none" stroke="#00b050" stroke-width="3.3"/><polygon points="555.04,11.14 585.44,11.14 586.40,139.66 557.60,139.66" fill="none" stroke="#a6a6a6" stroke-width="3.30" stroke-linejoin="miter"/><polygon points="76.16,147.86 495.42,147.86 495.42,165.14 315.33,165.14 315.33,184.80 76.16,184.80" fill="none" stroke="#b0a414" stroke-width="3.30" stroke-linejoin="miter"/></svg></div>
<div class="pt" style="transform:matrix3d(0.953021335,0,0,0,-0.229978991,0.500991002,0,-0.000693125348,0,0,1,0,45.8935996,561.81174,0,1)"><svg width="768" height="216" style="display:block"><style>.n{font:9px "Liberation Sans",sans-serif;fill:#24112f;stroke:#24112f;stroke-width:.2px;opacity:.9}.s{font:bold 13px "Liberation Sans",sans-serif;fill:#111}</style><rect x="13.00" y="13.00" width="30.00" height="19.60" fill="#ee9e96"/><text class="n" transform="translate(15.40 17.90) scale(1.000 0.66)">1</text><text class="s" transform="translate(15.30 25.80) scale(1.000 0.72)">H</text><rect x="557.00" y="13.00" width="30.00" height="19.60" fill="#f1a492"/><text class="n" transform="translate(559.40 17.90) scale(1.000 0.66)">2</text><text class="s" transform="translate(559.30 25.80) scale(1.000 0.72)">He</text><rect x="13.00" y="34.60" width="30.00" height="19.60" fill="#6e5db6"/><text class="n" transform="translate(15.40 39.50) scale(1.000 0.66)">3</text><text class="s" transform="translate(15.30 47.40) scale(1.000 0.72)">Li</text><rect x="45.00" y="34.60" width="30.00" height="19.60" fill="#9e59c6"/><text class="n" transform="translate(47.40 39.50) scale(1.000 0.66)">4</text><text class="s" transform="translate(47.30 47.40) scale(1.000 0.72)">Be</text><rect x="397.00" y="34.60" width="30.00" height="19.60" fill="#b762c4"/><text class="n" transform="translate(399.40 39.50) scale(1.000 0.66)">5</text><text class="s" transform="translate(399.30 47.40) scale(1.000 0.72)">B</text><rect x="429.00" y="34.60" width="30.00" height="19.60" fill="#de88a7"/><text class="n" transform="translate(431.40 39.50) scale(1.000 0.66)">6</text><text class="s" transform="translate(431.30 47.40) scale(1.000 0.72)">C</text><rect x="461.00" y="34.60" width="30.00" height="19.60" fill="#f1a492"/><text class="n" transform="translate(463.40 39.50) scale(1.000 0.66)">7</text><text class="s" transform="translate(463.30 47.40) scale(1.000 0.72)">N</text><rect x="493.00" y="34.60" width="30.00" height="19.60" fill="#fbbc82"/><text class="n" transform="translate(495.40 39.50) scale(1.000 0.66)">8</text><text class="s" transform="translate(495.30 47.40) scale(1.000 0.72)">O</text><rect x="525.00" y="34.60" width="30.00" height="19.60" fill="#f5fb6f"/><text class="n" transform="translate(527.40 39.50) scale(1.000 0.66)">9</text><text class="s" transform="translate(527.30 47.40) scale(1.000 0.72)">F</text><rect x="557.00" y="34.60" width="30.00" height="19.60" fill="#eb9a99"/><text class="n" transform="translate(559.40 39.50) scale(1.000 0.66)">10</text><text class="s" transform="translate(559.30 47.40) scale(1.000 0.72)">Ne</text><rect x="13.00" y="56.20" width="30.00" height="19.60" fill="#6b5db5"/><text class="n" transform="translate(15.40 61.10) scale(1.000 0.66)">11</text><text class="s" transform="translate(15.30 69.00) scale(1.000 0.72)">Na</text><rect x="45.00" y="56.20" width="30.00" height="19.60" fill="#665eb2"/><text class="n" transform="translate(47.40 61.10) scale(1.000 0.66)">12</text><text class="s" transform="translate(47.30 69.00) scale(1.000 0.72)">Mg</text><rect x="397.00" y="56.20" width="30.00" height="19.60" fill="#745db9"/><text class="n" transform="translate(399.40 61.10) scale(1.000 0.66)">13</text><text class="s" transform="translate(399.30 69.00) scale(1.000 0.72)">Al</text><rect x="429.00" y="56.20" width="30.00" height="19.60" fill="#b25ec5"/><text class="n" transform="translate(431.40 61.10) scale(1.000 0.66)">14</text><text class="s" transform="translate(431.30 69.00) scale(1.000 0.72)">Si</text><rect x="461.00" y="56.20" width="30.00" height="19.60" fill="#d078b4"/><text class="n" transform="translate(463.40 61.10) scale(1.000 0.66)">15</text><text class="s" transform="translate(463.30 69.00) scale(1.000 0.72)">P</text><rect x="493.00" y="56.20" width="30.00" height="19.60" fill="#d57eaf"/><text class="n" transform="translate(495.40 61.10) scale(1.000 0.66)">16</text><text class="s" transform="translate(495.30 69.00) scale(1.000 0.72)">S</text><rect x="525.00" y="56.20" width="30.00" height="19.60" fill="#eb9a99"/><text class="n" transform="translate(527.40 61.10) scale(1.000 0.66)">17</text><text class="s" transform="translate(527.30 69.00) scale(1.000 0.72)">Cl</text><rect x="557.00" y="56.20" width="30.00" height="19.60" fill="#e591a0"/><text class="n" transform="translate(559.40 61.10) scale(1.000 0.66)">18</text><text class="s" transform="translate(559.30 69.00) scale(1.000 0.72)">Ar</text><rect x="13.00" y="77.80" width="30.00" height="19.60" fill="#7e5cbd"/><text class="n" transform="translate(15.40 82.70) scale(1.000 0.66)">19</text><text class="s" transform="translate(15.30 90.60) scale(1.000 0.72)">K</text><rect x="45.00" y="77.80" width="30.00" height="19.60" fill="#915ac4"/><text class="n" transform="translate(47.40 82.70) scale(1.000 0.66)">20</text><text class="s" transform="translate(47.30 90.60) scale(1.000 0.72)">Ca</text><rect x="77.00" y="77.80" width="30.00" height="19.60" fill="#9959c6"/><text class="n" transform="translate(79.40 82.70) scale(1.000 0.66)">21</text><text class="s" transform="translate(79.30 90.60) scale(1.000 0.72)">Sc</text><rect x="109.00" y="77.80" width="30.00" height="19.60" fill="#9959c6"/><text class="n" transform="translate(111.40 82.70) scale(1.000 0.66)">22</text><text class="s" transform="translate(111.30 90.60) scale(1.000 0.72)">Ti</text><rect x="141.00" y="77.80" width="30.00" height="19.60" fill="#9e59c6"/><text class="n" transform="translate(143.40 82.70) scale(1.000 0.66)">23</text><text class="s" transform="translate(143.30 90.60) scale(1.000 0.72)">V</text><rect x="173.00" y="77.80" width="30.00" height="19.60" fill="#9e59c6"/><text class="n" transform="translate(175.40 82.70) scale(1.000 0.66)">24</text><text class="s" transform="translate(175.30 90.60) scale(1.000 0.72)">Cr</text><rect x="205.00" y="77.80" width="30.00" height="19.60" fill="#a35ac7"/><text class="n" transform="translate(207.40 82.70) scale(1.000 0.66)">25</text><text class="s" transform="translate(207.30 90.60) scale(1.000 0.72)">Mn</text><rect x="237.00" y="77.80" width="30.00" height="19.60" fill="#ab5bc6"/><text class="n" transform="translate(239.40 82.70) scale(1.000 0.66)">26</text><text class="s" transform="translate(239.30 90.60) scale(1.000 0.72)">Fe</text><rect x="269.00" y="77.80" width="30.00" height="19.60" fill="#ab5bc6"/><text class="n" transform="translate(271.40 82.70) scale(1.000 0.66)">27</text><text class="s" transform="translate(271.30 90.60) scale(1.000 0.72)">Co</text><rect x="301.00" y="77.80" width="30.00" height="19.60" fill="#ab5bc6"/><text class="n" transform="translate(303.40 82.70) scale(1.000 0.66)">28</text><text class="s" transform="translate(303.30 90.60) scale(1.000 0.72)">Ni</text><rect x="333.00" y="77.80" width="30.00" height="19.60" fill="#815cbe"/><text class="n" transform="translate(335.40 82.70) scale(1.000 0.66)">29</text><text class="s" transform="translate(335.30 90.60) scale(1.000 0.72)">Cu</text><rect x="365.00" y="77.80" width="30.00" height="19.60" fill="#915ac4"/><text class="n" transform="translate(367.40 82.70) scale(1.000 0.66)">30</text><text class="s" transform="translate(367.30 90.60) scale(1.000 0.72)">Zn</text><rect x="397.00" y="77.80" width="30.00" height="19.60" fill="#895bc1"/><text class="n" transform="translate(399.40 82.70) scale(1.000 0.66)">31</text><text class="s" transform="translate(399.30 90.60) scale(1.000 0.72)">Ga</text><rect x="429.00" y="77.80" width="30.00" height="19.60" fill="#ab5bc6"/><text class="n" transform="translate(431.40 82.70) scale(1.000 0.66)">32</text><text class="s" transform="translate(431.30 90.60) scale(1.000 0.72)">Ge</text><rect x="461.00" y="77.80" width="30.00" height="19.60" fill="#c26bbe"/><text class="n" transform="translate(463.40 82.70) scale(1.000 0.66)">33</text><text class="s" transform="translate(463.30 90.60) scale(1.000 0.72)">As</text><rect x="493.00" y="77.80" width="30.00" height="19.60" fill="#d078b4"/><text class="n" transform="translate(495.40 82.70) scale(1.000 0.66)">34</text><text class="s" transform="translate(495.30 90.60) scale(1.000 0.72)">Se</text><rect x="525.00" y="77.80" width="30.00" height="19.60" fill="#e18ba4"/><text class="n" transform="translate(527.40 82.70) scale(1.000 0.66)">35</text><text class="s" transform="translate(527.30 90.60) scale(1.000 0.72)">Br</text><rect x="557.00" y="77.80" width="30.00" height="19.60" fill="#de88a7"/><text class="n" transform="translate(559.40 82.70) scale(1.000 0.66)">36</text><text class="s" transform="translate(559.30 90.60) scale(1.000 0.72)">Kr</text><rect x="13.00" y="99.40" width="30.00" height="19.60" fill="#7e5cbd"/><text class="n" transform="translate(15.40 104.30) scale(1.000 0.66)">37</text><text class="s" transform="translate(15.30 112.20) scale(1.000 0.72)">Rb</text><rect x="45.00" y="99.40" width="30.00" height="19.60" fill="#895bc1"/><text class="n" transform="translate(47.40 104.30) scale(1.000 0.66)">38</text><text class="s" transform="translate(47.30 112.20) scale(1.000 0.72)">Sr</text><rect x="77.00" y="99.40" width="30.00" height="19.60" fill="#8c5bc2"/><text class="n" transform="translate(79.40 104.30) scale(1.000 0.66)">39</text><text class="s" transform="translate(79.30 112.20) scale(1.000 0.72)">Y</text><rect x="109.00" y="99.40" width="30.00" height="19.60" fill="#965ac5"/><text class="n" transform="translate(111.40 104.30) scale(1.000 0.66)">40</text><text class="s" transform="translate(111.30 112.20) scale(1.000 0.72)">Zr</text><rect x="141.00" y="99.40" width="30.00" height="19.60" fill="#9e59c6"/><text class="n" transform="translate(143.40 104.30) scale(1.000 0.66)">41</text><text class="s" transform="translate(143.30 112.20) scale(1.000 0.72)">Nb</text><rect x="173.00" y="99.40" width="30.00" height="19.60" fill="#ab5bc6"/><text class="n" transform="translate(175.40 104.30) scale(1.000 0.66)">42</text><text class="s" transform="translate(175.30 112.20) scale(1.000 0.72)">Mo</text><rect x="205.00" y="99.40" width="30.00" height="19.60" fill="#ab5bc6"/><text class="n" transform="translate(207.40 104.30) scale(1.000 0.66)">43</text><text class="s" transform="translate(207.30 112.20) scale(1.000 0.72)">Tc</text><rect x="237.00" y="99.40" width="30.00" height="19.60" fill="#b762c4"/><text class="n" transform="translate(239.40 104.30) scale(1.000 0.66)">44</text><text class="s" transform="translate(239.30 112.20) scale(1.000 0.72)">Ru</text><rect x="269.00" y="99.40" width="30.00" height="19.60" fill="#b762c4"/><text class="n" transform="translate(271.40 104.30) scale(1.000 0.66)">45</text><text class="s" transform="translate(271.30 112.20) scale(1.000 0.72)">Rh</text><rect x="301.00" y="99.40" width="30.00" height="19.60" fill="#b25ec5"/><text class="n" transform="translate(303.40 104.30) scale(1.000 0.66)">46</text><text class="s" transform="translate(303.30 112.20) scale(1.000 0.72)">Pd</text><rect x="333.00" y="99.40" width="30.00" height="19.60" fill="#835cbf"/><text class="n" transform="translate(335.40 104.30) scale(1.000 0.66)">47</text><text class="s" transform="translate(335.30 112.20) scale(1.000 0.72)">Ag</text><rect x="365.00" y="99.40" width="30.00" height="19.60" fill="#915ac4"/><text class="n" transform="translate(367.40 104.30) scale(1.000 0.66)">48</text><text class="s" transform="translate(367.30 112.20) scale(1.000 0.72)">Cd</text><rect x="397.00" y="99.40" width="30.00" height="19.60" fill="#895bc1"/><text class="n" transform="translate(399.40 104.30) scale(1.000 0.66)">49</text><text class="s" transform="translate(399.30 112.20) scale(1.000 0.72)">In</text><rect x="429.00" y="99.40" width="30.00" height="19.60" fill="#ab5bc6"/><text class="n" transform="translate(431.40 104.30) scale(1.000 0.66)">50</text><text class="s" transform="translate(431.30 112.20) scale(1.000 0.72)">Sn</text><rect x="461.00" y="99.40" width="30.00" height="19.60" fill="#b762c4"/><text class="n" transform="translate(463.40 104.30) scale(1.000 0.66)">51</text><text class="s" transform="translate(463.30 112.20) scale(1.000 0.72)">Sb</text><rect x="493.00" y="99.40" width="30.00" height="19.60" fill="#c871ba"/><text class="n" transform="translate(495.40 104.30) scale(1.000 0.66)">52</text><text class="s" transform="translate(495.30 112.20) scale(1.000 0.72)">Te</text><rect x="525.00" y="99.40" width="30.00" height="19.60" fill="#da83ab"/><text class="n" transform="translate(527.40 104.30) scale(1.000 0.66)">53</text><text class="s" transform="translate(527.30 112.20) scale(1.000 0.72)">I</text><rect x="557.00" y="99.40" width="30.00" height="19.60" fill="#d078b4"/><text class="n" transform="translate(559.40 104.30) scale(1.000 0.66)">54</text><text class="s" transform="translate(559.30 112.20) scale(1.000 0.72)">Xe</text><rect x="13.00" y="121.00" width="30.00" height="19.60" fill="#7a5cbc"/><text class="n" transform="translate(15.40 125.90) scale(1.000 0.66)">55</text><text class="s" transform="translate(15.30 133.80) scale(1.000 0.72)">Cs</text><rect x="45.00" y="121.00" width="30.00" height="19.60" fill="#8c5bc2"/><text class="n" transform="translate(47.40 125.90) scale(1.000 0.66)">56</text><text class="s" transform="translate(47.30 133.80) scale(1.000 0.72)">Ba</text><rect x="77.00" y="121.00" width="30.00" height="19.60" fill="#895bc1"/><text class="n" transform="translate(79.40 125.90) scale(1.000 0.66)">71</text><text class="s" transform="translate(79.30 133.80) scale(1.000 0.72)">Lu</text><rect x="109.00" y="121.00" width="30.00" height="19.60" fill="#915ac4"/><text class="n" transform="translate(111.40 125.90) scale(1.000 0.66)">72</text><text class="s" transform="translate(111.30 133.80) scale(1.000 0.72)">Hf</text><rect x="141.00" y="121.00" width="30.00" height="19.60" fill="#965ac5"/><text class="n" transform="translate(143.40 125.90) scale(1.000 0.66)">73</text><text class="s" transform="translate(143.30 133.80) scale(1.000 0.72)">Ta</text><rect x="173.00" y="121.00" width="30.00" height="19.60" fill="#9e59c6"/><text class="n" transform="translate(175.40 125.90) scale(1.000 0.66)">74</text><text class="s" transform="translate(175.30 133.80) scale(1.000 0.72)">W</text><rect x="205.00" y="121.00" width="30.00" height="19.60" fill="#b762c4"/><text class="n" transform="translate(207.40 125.90) scale(1.000 0.66)">75</text><text class="s" transform="translate(207.30 133.80) scale(1.000 0.72)">Re</text><rect x="237.00" y="121.00" width="30.00" height="19.60" fill="#be67c0"/><text class="n" transform="translate(239.40 125.90) scale(1.000 0.66)">76</text><text class="s" transform="translate(239.30 133.80) scale(1.000 0.72)">Os</text><rect x="269.00" y="121.00" width="30.00" height="19.60" fill="#be67c0"/><text class="n" transform="translate(271.40 125.90) scale(1.000 0.66)">77</text><text class="s" transform="translate(271.30 133.80) scale(1.000 0.72)">Ir</text><rect x="301.00" y="121.00" width="30.00" height="19.60" fill="#b762c4"/><text class="n" transform="translate(303.40 125.90) scale(1.000 0.66)">78</text><text class="s" transform="translate(303.30 133.80) scale(1.000 0.72)">Pt</text><rect x="333.00" y="121.00" width="30.00" height="19.60" fill="#895bc1"/><text class="n" transform="translate(335.40 125.90) scale(1.000 0.66)">79</text><text class="s" transform="translate(335.30 133.80) scale(1.000 0.72)">Au</text><rect x="365.00" y="121.00" width="30.00" height="19.60" fill="#9e59c6"/><text class="n" transform="translate(367.40 125.90) scale(1.000 0.66)">80</text><text class="s" transform="translate(367.30 133.80) scale(1.000 0.72)">Hg</text><rect x="397.00" y="121.00" width="30.00" height="19.60" fill="#895bc1"/><text class="n" transform="translate(399.40 125.90) scale(1.000 0.66)">81</text><text class="s" transform="translate(399.30 133.80) scale(1.000 0.72)">Tl</text><rect x="429.00" y="121.00" width="30.00" height="19.60" fill="#a35ac7"/><text class="n" transform="translate(431.40 125.90) scale(1.000 0.66)">82</text><text class="s" transform="translate(431.30 133.80) scale(1.000 0.72)">Pb</text><rect x="461.00" y="121.00" width="30.00" height="19.60" fill="#ab5bc6"/><text class="n" transform="translate(463.40 125.90) scale(1.000 0.66)">83</text><text class="s" transform="translate(463.30 133.80) scale(1.000 0.72)">Bi</text><rect x="493.00" y="121.00" width="30.00" height="19.60" fill="#c26bbe"/><text class="n" transform="translate(495.40 125.90) scale(1.000 0.66)">84</text><text class="s" transform="translate(495.30 133.80) scale(1.000 0.72)">Po</text><rect x="525.00" y="121.00" width="30.00" height="19.60" fill="#cc75b7"/><text class="n" transform="translate(527.40 125.90) scale(1.000 0.66)">85</text><text class="s" transform="translate(527.30 133.80) scale(1.000 0.72)">At</text><rect x="557.00" y="121.00" width="30.00" height="19.60" fill="#c871ba"/><text class="n" transform="translate(559.40 125.90) scale(1.000 0.66)">86</text><text class="s" transform="translate(559.30 133.80) scale(1.000 0.72)">Rn</text><rect x="13.00" y="142.60" width="30.00" height="19.60" fill="#7a5cbc"/><text class="n" transform="translate(15.40 147.50) scale(1.000 0.66)">87</text><text class="s" transform="translate(15.30 155.40) scale(1.000 0.72)">Fr</text><rect x="45.00" y="142.60" width="30.00" height="19.60" fill="#835cbf"/><text class="n" transform="translate(47.40 147.50) scale(1.000 0.66)">88</text><text class="s" transform="translate(47.30 155.40) scale(1.000 0.72)">Ra</text><rect x="77.16" y="148.00" width="28.02" height="17.87" fill="#8c5bc2"/><text class="n" transform="translate(79.56 153.80) scale(0.950 0.66)">57</text><text class="s" transform="translate(79.46 160.80) scale(0.950 0.72)">La</text><rect x="107.18" y="148.00" width="28.02" height="17.87" fill="#935ac4"/><text class="n" transform="translate(109.58 153.80) scale(0.950 0.66)">58</text><text class="s" transform="translate(109.48 160.80) scale(0.950 0.72)">Ce</text><rect x="137.19" y="148.00" width="28.02" height="17.87" fill="#935ac4"/><text class="n" transform="translate(139.59 153.80) scale(0.950 0.66)">59</text><text class="s" transform="translate(139.49 160.80) scale(0.950 0.72)">Pr</text><rect x="167.21" y="148.00" width="28.02" height="17.87" fill="#935ac4"/><text class="n" transform="translate(169.61 153.80) scale(0.950 0.66)">60</text><text class="s" transform="translate(169.51 160.80) scale(0.950 0.72)">Nd</text><rect x="197.22" y="148.00" width="28.02" height="17.87" fill="#935ac4"/><text class="n" transform="translate(199.62 153.80) scale(0.950 0.66)">61</text><text class="s" transform="translate(199.52 160.80) scale(0.950 0.72)">Pm</text><rect x="227.24" y="148.00" width="28.02" height="17.87" fill="#935ac4"/><text class="n" transform="translate(229.64 153.80) scale(0.950 0.66)">62</text><text class="s" transform="translate(229.54 160.80) scale(0.950 0.72)">Sm</text><rect x="257.26" y="148.00" width="28.02" height="17.87" fill="#935ac4"/><text class="n" transform="translate(259.66 153.80) scale(0.950 0.66)">63</text><text class="s" transform="translate(259.56 160.80) scale(0.950 0.72)">Eu</text><rect x="287.27" y="148.00" width="28.02" height="17.87" fill="#935ac4"/><text class="n" transform="translate(289.67 153.80) scale(0.950 0.66)">64</text><text class="s" transform="translate(289.57 160.80) scale(0.950 0.72)">Gd</text><rect x="317.29" y="148.00" width="28.02" height="17.87" fill="#935ac4"/><text class="n" transform="translate(319.69 153.80) scale(0.950 0.66)">65</text><text class="s" transform="translate(319.59 160.80) scale(0.950 0.72)">Tb</text><rect x="347.30" y="148.00" width="28.02" height="17.87" fill="#935ac4"/><text class="n" transform="translate(349.70 153.80) scale(0.950 0.66)">66</text><text class="s" transform="translate(349.60 160.80) scale(0.950 0.72)">Dy</text><rect x="377.32" y="148.00" width="28.02" height="17.87" fill="#935ac4"/><text class="n" transform="translate(379.72 153.80) scale(0.950 0.66)">67</text><text class="s" transform="translate(379.62 160.80) scale(0.950 0.72)">Ho</text><rect x="407.34" y="148.00" width="28.02" height="17.87" fill="#935ac4"/><text class="n" transform="translate(409.74 153.80) scale(0.950 0.66)">68</text><text class="s" transform="translate(409.64 160.80) scale(0.950 0.72)">Er</text><rect x="437.35" y="148.00" width="28.02" height="17.87" fill="#935ac4"/><text class="n" transform="translate(439.75 153.80) scale(0.950 0.66)">69</text><text class="s" transform="translate(439.65 160.80) scale(0.950 0.72)">Tm</text><rect x="467.37" y="148.00" width="28.02" height="17.87" fill="#935ac4"/><text class="n" transform="translate(469.77 153.80) scale(0.950 0.66)">70</text><text class="s" transform="translate(469.67 160.80) scale(0.950 0.72)">Yb</text><rect x="77.16" y="167.87" width="28.02" height="17.87" fill="#8e5bc3"/><text class="n" transform="translate(79.56 172.77) scale(0.950 0.66)">89</text><text class="s" transform="translate(79.46 180.67) scale(0.950 0.72)">Ac</text><rect x="107.18" y="167.87" width="28.02" height="17.87" fill="#935ac4"/><text class="n" transform="translate(109.58 172.77) scale(0.950 0.66)">90</text><text class="s" transform="translate(109.48 180.67) scale(0.950 0.72)">Th</text><rect x="137.19" y="167.87" width="28.02" height="17.87" fill="#935ac4"/><text class="n" transform="translate(139.59 172.77) scale(0.950 0.66)">91</text><text class="s" transform="translate(139.49 180.67) scale(0.950 0.72)">Pa</text><rect x="167.21" y="167.87" width="28.02" height="17.87" fill="#935ac4"/><text class="n" transform="translate(169.61 172.77) scale(0.950 0.66)">92</text><text class="s" transform="translate(169.51 180.67) scale(0.950 0.72)">U</text><rect x="197.22" y="167.87" width="28.02" height="17.87" fill="#935ac4"/><text class="n" transform="translate(199.62 172.77) scale(0.950 0.66)">93</text><text class="s" transform="translate(199.52 180.67) scale(0.950 0.72)">Np</text><rect x="227.24" y="167.87" width="28.02" height="17.87" fill="#935ac4"/><text class="n" transform="translate(229.64 172.77) scale(0.950 0.66)">94</text><text class="s" transform="translate(229.54 180.67) scale(0.950 0.72)">Pu</text><rect x="257.26" y="167.87" width="28.02" height="17.87" fill="#935ac4"/><text class="n" transform="translate(259.66 172.77) scale(0.950 0.66)">95</text><text class="s" transform="translate(259.56 180.67) scale(0.950 0.72)">Am</text><rect x="287.27" y="167.87" width="28.02" height="17.87" fill="#935ac4"/><text class="n" transform="translate(289.67 172.77) scale(0.950 0.66)">96</text><text class="s" transform="translate(289.57 180.67) scale(0.950 0.72)">Cm</text><polygon points="12.00,11.14 41.12,11.14 41.12,31.22 12.00,31.22" fill="none" stroke="#00b050" stroke-width="3.30" stroke-linejoin="miter"/><polygon points="12.96,33.60 74.40,33.60 74.40,161.26 12.96,161.26" fill="none" stroke="#ff0000" stroke-width="3.30" stroke-linejoin="miter"/><polygon points="77.60,75.94 329.18,75.94 329.18,139.87 77.60,139.87" fill="none" stroke="#ffc000" stroke-width="3.30" stroke-linejoin="miter"/><polygon points="331.72,75.94 392.27,75.94 392.27,140.30 331.72,140.30" fill="none" stroke="#000000" stroke-width="3.30" stroke-linejoin="miter"/><polygon points="395.47,55.20 395.47,139.87 521.76,139.87 521.76,120.00 488.80,120.00 488.80,98.40 456.80,98.40 456.80,76.80 424.80,76.80 424.80,55.20" fill="none" stroke="#00b0f0" stroke-width="3.3"/><polygon points="394.56,33.06 552.80,33.06 554.40,139.87 524.96,139.87 524.96,116.76 492.00,116.76 492.00,95.16 460.00,95.16 460.00,73.56 428.00,73.56 428.00,51.96 395.52,51.96" fill="none" stroke="#00b050" stroke-width="3.3"/><polygon points="555.04,11.14 585.44,11.14 586.40,139.66 557.60,139.66" fill="none" stroke="#a6a6a6" stroke-width="3.30" stroke-linejoin="miter"/><polygon points="76.16,147.86 495.42,147.86 495.42,165.14 315.33,165.14 315.33,184.80 76.16,184.80" fill="none" stroke="#b0a414" stroke-width="3.30" stroke-linejoin="miter"/></svg></div>
<div class="a" style="left:-1.7px;top:332px;font-size:26.8px;line-height:30px">(b)</div>
<svg class="a" style="left:0;top:0" width="685" height="759"><rect x="132.80" y="347.30" width="130.50" height="29.20" fill="#fff" stroke="#ff0000" stroke-width="2.40"/><text x="198.45" y="368.80" text-anchor="middle" font-family='"Liberation Sans", sans-serif' font-size="17.6" fill="#000"><tspan font-style="italic">s</tspan>-block metals</text></svg>
<svg class="a" style="left:0;top:0" width="685" height="759"><rect x="274.80" y="347.80" width="130.30" height="29.30" fill="#fff" stroke="#00b0f0" stroke-width="2.40"/><text x="340.35" y="369.30" text-anchor="middle" font-family='"Liberation Sans", sans-serif' font-size="17.6" fill="#000"><tspan font-style="italic">p</tspan>-block metals</text></svg>
<svg class="a" style="left:0;top:0" width="685" height="759"><rect x="132.60" y="388.80" width="129.60" height="28.10" fill="#fff" stroke="#ffc000" stroke-width="2.40"/><text x="197.80" y="410.30" text-anchor="middle" font-family='"Liberation Sans", sans-serif' font-size="17.6" fill="#000"><tspan font-style="italic">d</tspan>-block metals</text></svg>
<svg class="a" style="left:0;top:0" width="685" height="759"><rect x="274.40" y="388.80" width="130.10" height="28.00" fill="#fff" stroke="#b0a414" stroke-width="2.40"/><text x="339.85" y="410.30" text-anchor="middle" font-family='"Liberation Sans", sans-serif' font-size="17.6" fill="#000"><tspan font-style="italic">f</tspan>-block metals</text></svg>
<svg class="a" style="left:0;top:0" width="685" height="759"><rect x="204.00" y="555.20" width="129.80" height="29.00" fill="#fff" stroke="#000000" stroke-width="2.60"/><text x="269.30" y="576.60" text-anchor="middle" font-family='"Liberation Sans", sans-serif' font-size="17.6" fill="#000"><tspan font-style="italic">ds</tspan>-block metals</text></svg>
<svg class="a" style="left:0;top:0" width="685" height="759"><rect x="158.90" y="595.40" width="104.50" height="29.20" fill="#fff" stroke="#a6a6a6" stroke-width="2.40"/><text x="211.55" y="616.90" text-anchor="middle" font-family='"Liberation Sans", sans-serif' font-size="17.6" fill="#000"><tspan font-style="italic"></tspan>Noble gases</text></svg>
<svg class="a" style="left:0;top:0" width="685" height="759"><rect x="274.50" y="595.40" width="104.90" height="29.20" fill="#fff" stroke="#00b050" stroke-width="2.40"/><text x="327.35" y="616.90" text-anchor="middle" font-family='"Liberation Sans", sans-serif' font-size="17.6" fill="#000"><tspan font-style="italic"></tspan>Nonmetals</text></svg>
<svg class="a" style="left:0;top:0" width="685" height="759"><text transform="translate(445.80 377.00) scale(1.17 1)" x="0" y="0" font-family='"Liberation Serif", serif' font-style="italic" font-size="19.5">&#967;</text><path d="M451.6 366.6L454.2 362.4L456.9 366.6" fill="none" stroke="#000" stroke-width="1.1"/><text x="462.1" y="377.0" font-family='"Liberation Sans", sans-serif' font-size="18">at 0 GPa (eV)</text></svg>
<svg class="a" style="left:0;top:0" width="685" height="759"><text transform="translate(426.90 584.70) scale(1.17 1)" x="0" y="0" font-family='"Liberation Serif", serif' font-style="italic" font-size="19.5">&#967;</text><path d="M432.7 574.3L435.3 570.1L438.0 574.3" fill="none" stroke="#000" stroke-width="1.1"/><text x="443.2" y="584.7" font-family='"Liberation Sans", sans-serif' font-size="18">at 350 GPa (eV)</text></svg>
<svg class="a" style="left:0;top:0" width="685" height="759"><defs><linearGradient id="g360" x1="0" y1="0" x2="0" y2="1"><stop offset="0.00" stop-color="#f5fb6f"/><stop offset="0.10" stop-color="#fddf71"/><stop offset="0.20" stop-color="#fdc57c"/><stop offset="0.30" stop-color="#f7af8a"/><stop offset="0.40" stop-color="#eb9a99"/><stop offset="0.50" stop-color="#de88a7"/><stop offset="0.60" stop-color="#cc75b7"/><stop offset="0.70" stop-color="#b762c4"/><stop offset="0.80" stop-color="#9e59c6"/><stop offset="0.90" stop-color="#835cbf"/><stop offset="1.00" stop-color="#625eb1"/></linearGradient></defs><rect x="646.1" y="360.5" width="13.4" height="185.0" fill="url(#g360)"/><line x1="654.9" x2="658.5" y1="375.7" y2="375.7" stroke="#111" stroke-width="1.9"/><text x="663.5" y="381.0" font-family='"Liberation Sans", sans-serif' font-size="13.6">7</text><line x1="654.9" x2="658.5" y1="417.4" y2="417.4" stroke="#111" stroke-width="1.9"/><text x="663.5" y="422.7" font-family='"Liberation Sans", sans-serif' font-size="13.6">5</text><line x1="654.9" x2="658.5" y1="459.0" y2="459.0" stroke="#111" stroke-width="1.9"/><text x="663.5" y="464.3" font-family='"Liberation Sans", sans-serif' font-size="13.6">3</text><line x1="654.9" x2="658.5" y1="500.7" y2="500.7" stroke="#111" stroke-width="1.9"/><text x="663.5" y="506.0" font-family='"Liberation Sans", sans-serif' font-size="13.6">1</text><line x1="654.9" x2="658.5" y1="542.4" y2="542.4" stroke="#111" stroke-width="1.9"/><text x="663.5" y="547.7" font-family='"Liberation Sans", sans-serif' font-size="13.6">-1</text></svg>
<svg class="a" style="left:0;top:0" width="685" height="759"><defs><linearGradient id="g569" x1="0" y1="0" x2="0" y2="1"><stop offset="0.00" stop-color="#f5fb6f"/><stop offset="0.10" stop-color="#fddf71"/><stop offset="0.20" stop-color="#fdc57c"/><stop offset="0.30" stop-color="#f7af8a"/><stop offset="0.40" stop-color="#eb9a99"/><stop offset="0.50" stop-color="#de88a7"/><stop offset="0.60" stop-color="#cc75b7"/><stop offset="0.70" stop-color="#b762c4"/><stop offset="0.80" stop-color="#9e59c6"/><stop offset="0.90" stop-color="#835cbf"/><stop offset="1.00" stop-color="#625eb1"/></linearGradient></defs><rect x="646.1" y="569.8" width="14.0" height="187.4" fill="url(#g569)"/><line x1="655.5" x2="659.1" y1="581.9" y2="581.9" stroke="#111" stroke-width="1.9"/><text x="664.1" y="587.2" font-family='"Liberation Sans", sans-serif' font-size="13.6">4</text><line x1="655.5" x2="659.1" y1="638.8" y2="638.8" stroke="#111" stroke-width="1.9"/><text x="664.1" y="644.1" font-family='"Liberation Sans", sans-serif' font-size="13.6">0</text><line x1="655.5" x2="659.1" y1="695.7" y2="695.7" stroke="#111" stroke-width="1.9"/><text x="664.1" y="701.0" font-family='"Liberation Sans", sans-serif' font-size="13.6">-4</text><line x1="655.5" x2="659.1" y1="752.6" y2="752.6" stroke="#111" stroke-width="1.9"/><text x="664.1" y="757.9" font-family='"Liberation Sans", sans-serif' font-size="13.6">-8</text></svg>
<svg class="a" style="left:0;top:0" width="685" height="759"><g stroke="#969696" stroke-width="1.7" stroke-dasharray="5.8 4.6"><line x1="22.8" x2="22.8" y1="518.0" y2="722.0"/><line x1="54.5" x2="54.5" y1="518.0" y2="571.0"/><line x1="605.4" x2="605.4" y1="494.0" y2="568.0"/><line x1="633.0" x2="633.0" y1="494.0" y2="680.0"/></g></svg>
</body></html>
